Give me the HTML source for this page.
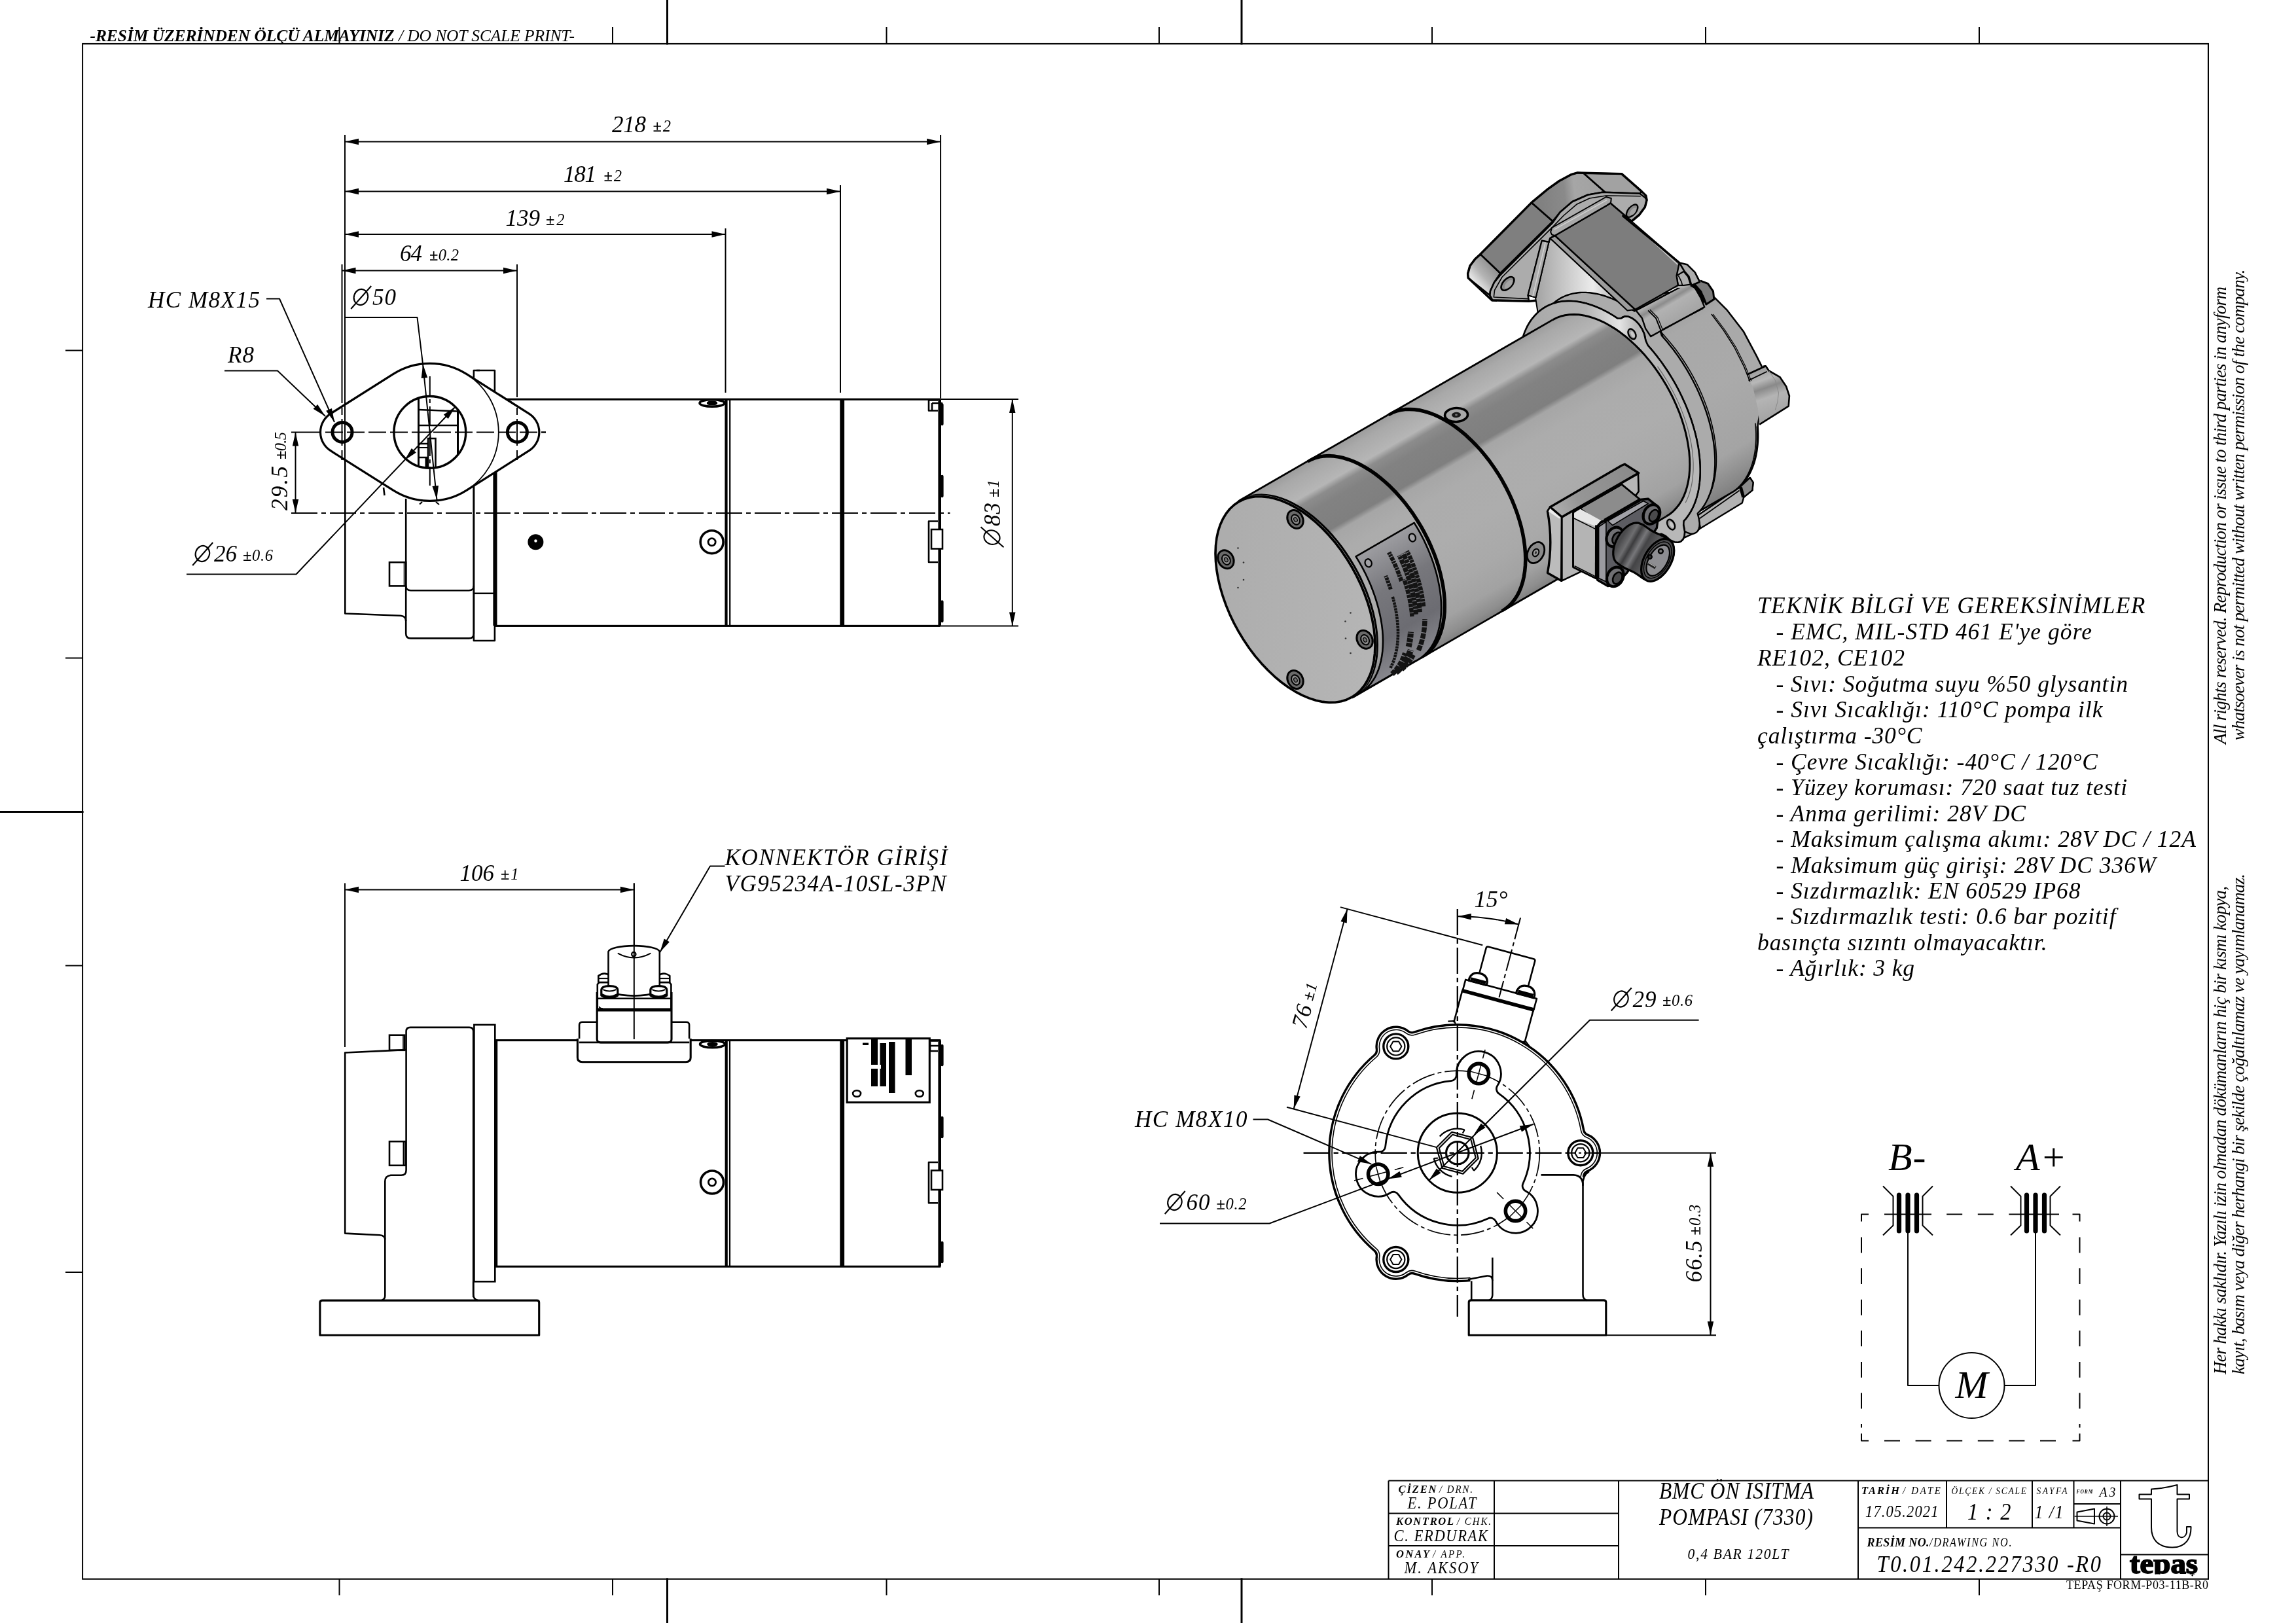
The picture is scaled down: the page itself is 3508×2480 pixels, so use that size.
<!DOCTYPE html>
<html><head><meta charset="utf-8"><title>drawing</title>
<style>html,body{margin:0;padding:0;background:#fff}svg{display:block}text{font-family:"Liberation Serif",serif;fill:#000;stroke:none}</style></head>
<body>
<svg xmlns="http://www.w3.org/2000/svg" width="3508" height="2480" viewBox="0 0 3508 2480">
<rect width="3508" height="2480" fill="#fff"/>
<g opacity="0.999">
<defs><linearGradient id="gcyl" gradientUnits="userSpaceOnUse" x1="1892.2" y1="765.7" x2="2065.8" y2="1066.3"><stop offset="0" stop-color="#9c9c9c"/><stop offset="0.04" stop-color="#a9a9a9"/><stop offset="0.125" stop-color="#b6b6b6"/><stop offset="0.155" stop-color="#8c8c8c"/><stop offset="0.2" stop-color="#828282"/><stop offset="0.31" stop-color="#7f7f7f"/><stop offset="0.335" stop-color="#a6a6a6"/><stop offset="0.42" stop-color="#acacac"/><stop offset="0.6" stop-color="#adadad"/><stop offset="0.78" stop-color="#a9a9a9"/><stop offset="0.9" stop-color="#a2a2a2"/><stop offset="0.97" stop-color="#8e8e8e"/><stop offset="1" stop-color="#808080"/></linearGradient>
<linearGradient id="gpump" gradientUnits="userSpaceOnUse" x1="1881.0" y1="746.3" x2="2077.0" y2="1085.7"><stop offset="0" stop-color="#9a9a9a"/><stop offset="0.08" stop-color="#b0b0b0"/><stop offset="0.16" stop-color="#8c8c8c"/><stop offset="0.24" stop-color="#9a9a9a"/><stop offset="0.34" stop-color="#a8a8a8"/><stop offset="0.6" stop-color="#aaaaaa"/><stop offset="0.85" stop-color="#a4a4a4"/><stop offset="0.95" stop-color="#8a8a8a"/><stop offset="1" stop-color="#7c7c7c"/></linearGradient>
<linearGradient id="gface" gradientUnits="userSpaceOnUse" x1="1860" y1="900" x2="2100" y2="940"><stop offset="0" stop-color="#adadad"/><stop offset="0.5" stop-color="#b1b1b1"/><stop offset="1" stop-color="#b5b5b5"/></linearGradient>
<linearGradient id="gplate" gradientUnits="userSpaceOnUse" x1="2075" y1="850" x2="2170" y2="1010"><stop offset="0" stop-color="#9c9ca0"/><stop offset="0.35" stop-color="#77777c"/><stop offset="0.7" stop-color="#6c6c72"/><stop offset="1" stop-color="#8a8a90"/></linearGradient>
<linearGradient id="gflface" gradientUnits="userSpaceOnUse" x1="2330" y1="520" x2="2500" y2="520"><stop offset="0" stop-color="#a8a8a8"/><stop offset="0.55" stop-color="#b4b4b4"/><stop offset="0.85" stop-color="#e4e4e4"/><stop offset="1" stop-color="#b8b8b8"/></linearGradient>
<linearGradient id="gboss2" gradientUnits="userSpaceOnUse" x1="2690" y1="565" x2="2716" y2="640"><stop offset="0" stop-color="#a0a0a0"/><stop offset="0.2" stop-color="#b8b8b8"/><stop offset="0.36" stop-color="#8a8a8a"/><stop offset="0.55" stop-color="#b4b4b4"/><stop offset="1" stop-color="#a2a2a2"/></linearGradient>
</defs>
<defs><linearGradient id="gS1" gradientUnits="userSpaceOnUse" x1="2250" y1="425" x2="2282" y2="398"><stop offset="0" stop-color="#e2e2e2"/><stop offset="0.35" stop-color="#b4b4b4"/><stop offset="1" stop-color="#868686"/></linearGradient><linearGradient id="gS3" gradientUnits="userSpaceOnUse" x1="2350" y1="300" x2="2440" y2="290"><stop offset="0" stop-color="#808080"/><stop offset="0.45" stop-color="#8a8a8a"/><stop offset="0.62" stop-color="#a6a6a6"/><stop offset="1" stop-color="#a2a2a2"/></linearGradient><linearGradient id="gTri" gradientUnits="userSpaceOnUse" x1="2350" y1="430" x2="2470" y2="430"><stop offset="0" stop-color="#a6a6a6"/><stop offset="0.3" stop-color="#c4c4c4"/><stop offset="0.7" stop-color="#ececec"/><stop offset="1" stop-color="#b4b4b4"/></linearGradient><linearGradient id="gBoss" gradientUnits="userSpaceOnUse" x1="2535" y1="440" x2="2563" y2="488"><stop offset="0" stop-color="#9c9c9c"/><stop offset="0.25" stop-color="#b4b4b4"/><stop offset="0.42" stop-color="#8c8c8c"/><stop offset="0.55" stop-color="#b2b2b2"/><stop offset="1" stop-color="#a6a6a6"/></linearGradient></defs>
<path d="M2592.1,788.8 L2659.4,743.1 L2673.8,729.9 L2678.6,737.1 L2677.4,749.1 L2664.2,759.9 L2661.8,768.4 L2596.9,808.0 L2592.1,812.8 L2571.7,822.4 L2571.7,799.6 Z" fill="#b2b2b2" stroke="#000" stroke-width="2.4" stroke-linejoin="round" />
<path d="M2658.2,744.3 L2673.8,729.9 L2678.6,737.1 L2677.4,749.1 L2664.2,759.9 Z" fill="#8a8a8a" stroke="#000" stroke-width="2.4" stroke-linejoin="round" />
<path d="M2659.4,744.3 L2663.7,759.9" fill="none" stroke="#000" stroke-width="5" stroke-linejoin="round" />
<path d="M2574.1,803.2 L2593.3,794.8 L2657.5,749.6" fill="none" stroke="#000" stroke-width="1.8" stroke-linejoin="round" />
<path d="M2594.5,790.0 L2598.1,806.8" fill="none" stroke="#000" stroke-width="2.2" stroke-linejoin="round" />
<path d="M2577.7,792.0 L2583.8,788.1 L2589.5,783.4 L2594.6,778.0 L2599.3,772.0 L2603.5,765.4 L2607.2,758.2 L2610.3,750.4 L2612.9,742.1 L2614.9,733.2 L2616.4,723.9 L2617.2,714.2 L2617.5,704.1 L2617.2,693.7 L2616.4,683.0 L2614.9,672.1 L2612.9,660.9 L2610.3,649.6 L2607.2,638.2 L2603.5,626.7 L2599.3,615.3 L2594.6,603.8 L2589.5,592.5 L2583.8,581.3 L2577.7,570.3 L2571.3,559.6 L2564.4,549.1 L2557.2,539.0 L2549.6,529.2 L2541.8,519.8 L2533.7,510.9 L2525.4,502.5 L2516.9,494.6 L2508.2,487.3 L2499.5,480.6 L2490.6,474.5 L2481.7,469.0 L2472.9,464.2 L2464.0,460.1 L2455.3,456.7 L2446.6,454.1 L2438.1,452.1 L2429.8,450.9 L2421.7,450.5 L2413.9,450.8 L2406.3,451.9 L2399.1,453.7 L2392.2,456.2 L2385.7,459.5 L2584.8,444.6 L2619.3,454.4 L2639.0,474.2 L2663.7,506.2 L2683.4,543.2 L2694.5,565.4 L2695.4,559.3 L2691.0,600.0 L2689.0,630.0 L2685.6,650.6 L2685.9,656.5 L2686.1,662.3 L2686.1,668.0 L2685.9,673.5 L2685.5,679.0 L2684.9,684.3 L2684.2,689.6 L2683.3,694.6 L2682.2,699.6 L2681.0,704.3 L2679.5,709.0 L2677.9,713.4 L2676.1,717.7 L2674.2,721.9 L2672.1,725.8 L2669.8,729.6 L2667.4,733.1 L2664.8,736.5 L2662.1,739.7 L2659.2,742.7 L2656.2,745.4 L2653.1,748.0 L2649.8,750.3 L2646.3,752.4 Z" fill="url(#gpump)" stroke="#000" stroke-width="2.6" stroke-linejoin="round" />
<path d="M2669.0,572.5 L2697.8,559.3 L2702.6,566.5 L2719.4,576.1 L2729.1,590.5 L2733.9,605.0 L2732.7,620.6 L2688.2,648.7 L2685.8,624.2 L2678.6,592.9 Z" fill="url(#gboss2)" stroke="none" stroke-width="0" stroke-linejoin="round" />
<path d="M2669.0,572.5 L2697.8,559.3 L2702.6,566.5 L2719.4,576.1 L2729.1,590.5 L2733.9,605.0 L2732.7,620.6 L2688.2,648.7" fill="none" stroke="#000" stroke-width="2.6" stroke-linejoin="round" />
<path d="M2671.4,581.4 L2699.7,567.7" fill="none" stroke="#000" stroke-width="1.8" stroke-linejoin="round" />
<path d="M2702.6,566.5 L2712.2,580.9 L2717.5,600.1 L2715.8,614.6 L2712.2,626.6" fill="none" stroke="#8a8a8a" stroke-width="1.0" stroke-linejoin="round" />
<path d="M2582.5,790.5 L2587.3,787.4 L2591.8,783.9 L2596.0,780.0 L2600.0,775.7 L2603.7,771.0 L2607.0,766.0 L2610.1,760.5 L2612.8,754.7 L2615.2,748.6 L2617.3,742.1 L2619.0,735.3 L2620.4,728.3 L2621.4,720.9 L2622.1,713.3 L2622.4,705.5 L2622.4,697.5 L2622.0,689.3 L2621.3,680.9 L2620.2,672.3 L2618.8,663.6 L2617.0,654.9 L2614.9,646.0 L2612.5,637.1 L2609.7,628.1 L2606.6,619.2 L2603.2,610.2 L2599.5,601.3 L2595.5,592.4 L2591.2,583.6 L2586.6,574.9 L2581.8,566.4 L2576.7,558.0 L2571.4,549.7 L2565.9,541.7 L2560.2,533.8 L2554.2,526.2 L2548.1,518.9 L2541.9,511.8 L2535.5,505.0 L2528.9,498.5 L2522.3,492.4 L2515.5,486.5 L2508.7,481.1 L2501.8,475.9 L2494.9,471.2 L2488.0,466.9 L2481.0,463.0 L2474.1,459.5" fill="none" stroke="#000" stroke-width="1.6" stroke-linejoin="round" />
<path d="M2643.2,754.3 L2645.0,753.2 L2646.7,752.1 L2648.4,750.9 L2650.1,749.6 L2651.8,748.3 L2653.4,746.9 L2655.0,745.5 L2656.5,744.0 L2658.0,742.5 L2659.5,740.9 L2660.9,739.3 L2662.3,737.6 L2663.6,735.8 L2664.9,734.0 L2666.2,732.1 L2667.4,730.2 L2668.6,728.3 L2669.7,726.2 L2670.8,724.2 L2671.8,722.1 L2672.8,719.9 L2673.8,717.7 L2674.7,715.5 L2675.5,713.2 L2676.3,710.8 L2677.1,708.4 L2677.8,706.0 L2678.5,703.5 L2679.1,701.0 L2679.7,698.5 L2680.2,695.9 L2680.7,693.2 L2681.2,690.6 L2681.5,687.9 L2681.9,685.1 L2682.2,682.3 L2682.4,679.5 L2682.6,676.7 L2682.8,673.8 L2682.9,670.9 L2682.9,668.0 L2682.9,665.0 L2682.9,662.0 L2682.8,659.0 L2682.6,656.0 L2682.4,652.9 L2682.2,649.8 L2681.9,646.7" fill="none" stroke="#000" stroke-width="1.6" stroke-linejoin="round" />
<path d="M2644.8,753.3 L2646.5,752.3 L2648.2,751.2 L2649.9,750.1 L2651.5,748.9 L2653.1,747.6 L2654.7,746.3 L2656.2,745.0 L2657.7,743.6 L2659.1,742.1 L2660.6,740.6 L2661.9,739.0 L2663.3,737.4 L2664.6,735.7 L2665.9,734.0 L2667.1,732.3 L2668.3,730.5 L2669.4,728.6 L2670.5,726.7 L2671.6,724.8 L2672.6,722.8 L2673.6,720.7 L2674.6,718.6 L2675.5,716.5 L2676.4,714.3 L2677.2,712.1 L2678.0,709.9 L2678.7,707.6 L2679.4,705.2 L2680.0,702.9 L2680.7,700.5 L2681.2,698.0 L2681.7,695.5 L2682.2,693.0 L2682.7,690.5 L2683.0,687.9 L2683.4,685.2 L2683.7,682.6 L2683.9,679.9 L2684.2,677.2 L2684.3,674.4 L2684.4,671.7 L2684.5,668.9 L2684.5,666.0 L2684.5,663.2 L2684.5,660.3 L2684.4,657.4 L2684.2,654.4 L2684.0,651.5" fill="none" stroke="#000" stroke-width="1.2" stroke-linejoin="round" />
<path d="M2614.9,480.0 L2632.9,504.0 L2649.8,530.5 L2664.2,559.3 L2673.8,583.3" fill="none" stroke="#000" stroke-width="1.6" stroke-linejoin="round" />
<path d="M2617.3,480.0 L2635.3,504.0 L2652.2,530.5 L2666.6,559.3 L2675.7,582.1" fill="none" stroke="#000" stroke-width="1.2" stroke-linejoin="round" />
<path d="M2366.4,369.9 L2345.9,454.0 L2350.0,480.0 L2500.0,520.0 L2486.4,474.4 L2368.4,363.9 Z" fill="url(#gTri)" stroke="#000" stroke-width="2" stroke-linejoin="round" />
<path d="M2355.8,367.9 L2366.4,369.9 L2346.6,454.6 L2334.6,451.3 Z" fill="#ababab" stroke="#000" stroke-width="2" stroke-linejoin="round" />
<path d="M2282.3,452.6 L2283.6,443.4 L2294.9,423.5 L2373.7,345.4 L2367.7,359.9 L2355.8,367.9 L2334.6,451.3 L2336.0,459.9 L2280.3,458.6 Z" fill="#adadad" stroke="none" stroke-width="0" stroke-linejoin="round" />
<path d="M2540.3,804.6 L2543.3,804.7 L2546.3,804.7 L2549.2,804.5 L2552.1,804.3 L2554.9,803.9 L2557.7,803.5 L2560.5,802.9 L2563.2,802.3 L2568.6,807.3 L2574.0,811.7 L2578.5,814.2 L2582.5,815.4 L2586.0,815.7 L2589.1,815.0 L2591.7,813.5 L2593.9,811.3 L2595.5,808.2 L2596.5,804.2 L2596.7,799.2 L2595.7,792.5 L2593.7,784.7 L2595.6,782.7 L2597.5,780.6 L2599.3,778.4 L2601.0,776.1 L2602.7,773.8 L2604.3,771.3 L2605.8,768.8 L2607.2,766.2 L2608.6,763.5 L2609.9,760.7 L2611.1,757.8 L2612.3,754.9 L2613.4,751.9 L2614.4,748.8 L2615.3,745.6 L2616.2,742.4 L2616.9,739.1 L2617.6,735.8 L2618.2,732.4 L2618.8,728.9 L2619.2,725.3 L2619.6,721.7 L2619.9,718.1 L2620.1,714.4 L2620.3,710.6 L2620.3,706.8 L2620.3,703.0 L2620.2,699.1 L2620.0,695.1 L2619.8,691.2 L2619.5,687.1 L2619.0,683.1 L2618.5,679.0 L2618.0,674.9 L2617.3,670.8 L2616.6,666.6 L2615.8,662.4 L2614.9,658.2 L2613.9,654.0 L2612.9,649.7 L2611.8,645.4 L2610.6,641.2 L2609.3,636.9 L2608.0,632.6 L2606.6,628.3 L2605.1,624.0 L2603.5,619.7 L2601.9,615.4 L2600.2,611.2 L2598.5,606.9 L2596.6,602.6 L2594.8,598.4 L2592.8,594.1 L2590.8,589.9 L2588.7,585.7 L2586.5,581.5 L2584.3,577.4 L2582.1,573.3 L2579.7,569.2 L2577.4,565.1 L2574.9,561.1 L2572.4,557.1 L2569.9,553.2 L2567.3,549.3 L2564.7,545.4 L2562.0,541.6 L2559.2,537.8 L2556.5,534.1 L2553.6,530.5 L2550.8,526.9 L2547.9,523.3 L2544.9,519.8 L2542.0,516.4 L2538.9,513.0 L2537.1,507.2 L2535.7,499.8 L2533.5,493.7 L2530.8,488.4 L2527.8,483.8 L2524.4,479.9 L2520.9,476.5 L2517.3,473.8 L2513.5,471.8 L2509.6,470.5 L2505.6,470.3 L2501.6,471.5 L2497.5,475.5 L2494.1,473.5 L2490.8,471.3 L2487.5,469.2 L2484.2,467.2 L2480.8,465.2 L2477.5,463.4 L2474.2,461.6 L2470.9,460.0 L2467.6,458.4 L2464.3,456.9 L2461.0,455.5 L2457.7,454.3 L2454.4,453.1 L2451.2,452.0 L2447.9,451.0 L2444.7,450.2 L2441.5,449.4 L2438.3,448.7 L2435.2,448.2 L2432.1,447.7 L2429.0,447.3 L2425.9,447.1 L2422.9,446.9 L2419.9,446.9 L2416.9,446.9 L2414.0,447.0 L2411.1,447.3 L2408.3,447.7 L2405.5,448.1 L2402.8,448.7 L2400.0,449.3 L2397.4,450.1 L2394.8,451.0 L2392.2,451.9 L2389.7,453.0 L2387.2,454.2 L2384.8,455.4 L2382.5,456.8 L2380.2,458.2 L2377.9,459.8 L2375.8,461.5 L2373.7,463.2 L2371.6,465.0 L2369.6,467.0 L2367.7,469.0 L2365.8,471.1 L2364.1,473.3 L2362.3,475.6 L2360.7,478.0 L2359.1,480.4 L2357.6,483.0 L2356.1,485.6 L2333.5,498.7 L2335.0,496.1 L2336.5,493.5 L2338.1,491.0 L2339.7,488.7 L2341.4,486.4 L2343.2,484.2 L2345.1,482.1 L2347.0,480.0 L2349.0,478.1 L2351.0,476.3 L2353.1,474.5 L2355.3,472.9 L2357.6,471.3 L2359.8,469.9 L2362.2,468.5 L2364.6,467.2 L2367.1,466.1 L2369.6,465.0 L2372.1,464.0 L2374.8,463.2 L2377.4,462.4 L2380.1,461.7 L2382.9,461.2 L2385.7,460.7 L2388.5,460.4 L2391.4,460.1 L2394.3,460.0 L2397.3,459.9 L2400.3,460.0 L2403.3,460.1 L2406.4,460.4 L2409.5,460.8 L2412.6,461.2 L2415.7,461.8 L2418.9,462.5 L2422.1,463.2 L2425.3,464.1 L2428.5,465.1 L2431.8,466.2 L2435.1,467.3 L2438.3,468.6 L2441.6,470.0 L2444.9,471.4 L2448.2,473.0 L2451.6,474.7 L2454.9,476.4 L2458.2,478.3 L2461.5,480.2 L2464.9,482.3 L2468.2,484.4 L2471.5,486.6 L2474.8,488.6 L2479.0,484.5 L2483.0,483.4 L2487.0,483.6 L2490.8,484.8 L2494.6,486.8 L2498.3,489.6 L2501.8,492.9 L2505.1,496.9 L2508.2,501.5 L2510.9,506.7 L2513.1,512.8 L2514.4,520.3 L2516.3,526.1 L2519.3,529.5 L2522.3,532.9 L2525.3,536.4 L2528.2,539.9 L2531.0,543.5 L2533.8,547.2 L2536.6,550.9 L2539.4,554.7 L2542.0,558.5 L2544.7,562.3 L2547.3,566.2 L2549.8,570.2 L2552.3,574.2 L2554.7,578.2 L2557.1,582.2 L2559.4,586.3 L2561.7,590.5 L2563.9,594.6 L2566.1,598.8 L2568.1,603.0 L2570.2,607.2 L2572.1,611.4 L2574.0,615.7 L2575.8,619.9 L2577.6,624.2 L2579.3,628.5 L2580.9,632.8 L2582.5,637.1 L2584.0,641.4 L2585.4,645.7 L2586.7,650.0 L2588.0,654.2 L2589.1,658.5 L2590.3,662.8 L2591.3,667.0 L2592.3,671.2 L2593.1,675.5 L2594.0,679.7 L2594.7,683.8 L2595.3,688.0 L2595.9,692.1 L2596.4,696.2 L2596.8,700.2 L2597.2,704.2 L2597.4,708.2 L2597.6,712.1 L2597.7,716.0 L2597.7,719.9 L2597.6,723.7 L2597.5,727.4 L2597.3,731.2 L2597.0,734.8 L2596.6,738.4 L2596.1,741.9 L2595.6,745.4 L2595.0,748.8 L2594.3,752.2 L2593.5,755.5 L2592.7,758.7 L2591.7,761.9 L2590.7,764.9 L2589.7,767.9 L2588.5,770.9 L2587.3,773.7 L2586.0,776.5 L2584.6,779.2 L2583.2,781.8 L2581.6,784.4 L2580.0,786.8 L2578.4,789.2 L2576.7,791.5 L2574.9,793.7 L2573.0,795.8 L2571.1,797.8 L2573.1,805.6 L2574.1,812.2 L2573.9,817.3 L2572.9,821.2 L2571.3,824.3 L2569.1,826.6 L2566.5,828.1 L2563.4,828.7 L2559.9,828.5 L2555.9,827.3 L2551.4,824.8 L2546.0,820.4 L2540.6,815.3 L2537.9,816.0 L2535.1,816.5 L2532.3,817.0 L2529.5,817.3 L2526.6,817.6 L2523.7,817.7 L2520.7,817.8 L2517.7,817.7 Z" fill="#ababab" stroke="#000" stroke-width="2.4" stroke-linejoin="round" />
<path d="M2568.0,827.4 L2571.3,824.3 L2573.4,819.6 L2574.1,812.7 L2572.2,802.5 L2572.6,796.2 L2575.4,793.1 L2577.9,789.8 L2580.3,786.4 L2582.6,782.8 L2584.7,779.0 L2586.7,775.0 L2588.5,770.9 L2590.2,766.6 L2591.7,762.1 L2593.0,757.5 L2594.2,752.8 L2595.2,747.9 L2596.0,742.9 L2596.7,737.7 L2597.2,732.5 L2597.5,727.1 L2597.7,721.6 L2597.7,716.0 L2597.5,710.4 L2597.2,704.6 L2596.7,698.7 L2596.0,692.8 L2595.2,686.8 L2594.2,680.8 L2593.0,674.7 L2591.7,668.6 L2590.2,662.4 L2588.5,656.2 L2586.7,650.0 L2584.7,643.7 L2582.6,637.5 L2580.3,631.2 L2577.9,625.0 L2575.4,618.8 L2572.6,612.6 L2569.8,606.4 L2566.8,600.3 L2563.7,594.2 L2560.5,588.2 L2557.1,582.2 L2553.6,576.4 L2550.0,570.5 L2546.3,564.8 L2542.5,559.2 L2538.6,553.6 L2534.6,548.2 L2530.5,542.9 L2526.3,537.7 L2522.0,532.6 L2517.7,527.6 L2514.4,520.3 L2512.1,509.9 L2508.4,501.9 L2504.0,495.4 L2499.0,490.1 L2493.6,486.2 L2488.0,483.8 L2482.3,483.5 L2476.4,486.5 L2471.2,486.4 L2466.4,483.2 L2461.5,480.2 L2456.7,477.4 L2451.9,474.8 L2447.0,472.4 L2442.2,470.2 L2437.4,468.3 L2432.7,466.5 L2427.9,464.9 L2423.3,463.5 L2418.6,462.4 L2414.0,461.5 L2409.5,460.8 L2405.0,460.3 L2400.5,460.0 L2396.2,459.9 L2391.9,460.1 L2387.7,460.4 L2383.6,461.0 L2379.6,461.8 L2375.7,462.9 L2371.9,464.1 L2368.2,465.6 L2364.6,467.2 L2361.1,469.1 L2357.8,471.2 L2354.5,473.5 L2351.4,475.9 L2348.4,478.6 L2345.6,481.5 L2342.9,484.6 L2340.3,487.8 L2337.9,491.3 L2335.6,494.9 L2333.5,498.7 L2331.5,502.7 L2329.7,506.8 L2328.1,511.1 L2326.6,515.5 L2325.3,520.1 L2324.1,524.9 L2323.1,529.8 L2322.2,534.8 L2321.6,539.9 L2321.1,545.2 L2320.7,550.6 L2320.5,556.0 L2320.5,561.6 L2320.7,567.3 L2321.1,573.1 L2318.6,577.6 L2313.0,581.2 L2310.4,586.4 L2309.7,592.4 L2310.4,599.0 L2312.5,605.9 L2315.9,613.1 L2321.0,620.3 L2328.8,627.5 L2333.5,634.0 L2335.6,640.2 L2337.9,646.4 L2340.3,652.7 L2342.9,658.9 L2345.6,665.1 L2348.4,671.2 L2351.4,677.4 L2354.5,683.4 L2357.8,689.5 L2361.1,695.4 L2364.6,701.3 L2368.2,707.1 L2371.9,712.8 L2375.7,718.5 L2379.6,724.0 L2383.6,729.5 L2387.7,734.8 L2391.9,740.0 L2396.2,745.1 L2400.5,750.1 L2405.0,754.9 L2409.5,759.6 L2414.0,764.1 L2418.6,768.5 L2423.3,772.7 L2427.9,776.8 L2432.7,780.7 L2437.4,784.4 L2442.2,787.9 L2447.0,791.3 L2451.9,794.5 L2456.7,797.4 L2461.5,800.2 L2466.4,802.8 L2471.2,805.2 L2476.0,807.4 L2480.8,809.4 L2485.6,811.2 L2490.3,812.8 L2495.0,814.1 L2499.6,815.3 L2504.2,816.2 L2508.8,816.9 L2513.3,817.4 L2517.7,817.7 L2522.0,817.7 L2526.3,817.6 L2530.5,817.2 L2534.6,816.6 L2538.6,815.8 L2544.3,818.6 L2552.2,825.4 L2558.5,828.2 L2563.7,828.7 L2568.0,827.4 Z" fill="url(#gflface)" stroke="#000" stroke-width="2.6" stroke-linejoin="round" />
<path d="M2575.1,768.3 L2576.6,765.2 L2578.1,762.1 L2579.4,758.8 L2580.6,755.5 L2581.7,752.0 L2582.7,748.5 L2583.7,744.8 L2584.5,741.1 L2585.2,737.3 L2585.8,733.4 L2586.2,729.4 L2586.6,725.3 L2586.9,721.2 L2587.1,717.0 L2587.1,712.7 L2587.1,708.4 L2586.9,704.0 L2586.6,699.6 L2586.2,695.1 L2585.8,690.5 L2585.2,685.9 L2584.5,681.3 L2583.7,676.6 L2582.7,672.0 L2581.7,667.2 L2580.6,662.5 L2579.4,657.7 L2578.1,652.9 L2576.6,648.1 L2575.1,643.3 L2573.5,638.5 L2571.8,633.7 L2570.0,628.9 L2568.1,624.1 L2566.1,619.4 L2564.0,614.6 L2561.8,609.8 L2559.5,605.1 L2557.2,600.4 L2554.7,595.8 L2552.2,591.2 L2549.6,586.6 L2547.0,582.0 L2544.2,577.6 L2541.4,573.1 L2538.5,568.7 L2535.5,564.4 L2532.5,560.2" fill="none" stroke="#666" stroke-width="1.2" stroke-linejoin="round" />
<ellipse cx="2553.1" cy="801.6" rx="5.2" ry="8.4" fill="#9a9a9a" stroke="#000" stroke-width="2.4" transform="rotate(-28 2553.1 801.6)"/>
<ellipse cx="2554.1" cy="802.1" rx="2.6" ry="5.0" fill="#c8c8c8" stroke="none" stroke-width="0" transform="rotate(-28 2554.1 802.1)"/>
<ellipse cx="2493.5" cy="510.4" rx="5.2" ry="8.4" fill="#9a9a9a" stroke="#000" stroke-width="2.4" transform="rotate(-28 2493.5 510.4)"/>
<ellipse cx="2494.5" cy="510.9" rx="2.6" ry="5.0" fill="#c8c8c8" stroke="none" stroke-width="0" transform="rotate(-28 2494.5 510.9)"/>
<path d="M2499.6,474.4 L2572.5,436.0 L2580.4,434.6 L2589.7,439.9 L2598.9,455.8 L2604.2,469.1 L2522.1,514.1 L2514.2,502.2 L2508.9,486.3 Z" fill="url(#gBoss)" stroke="#000" stroke-width="2.4" stroke-linejoin="round" />
<path d="M2518.1,474.4 L2530.1,486.3 L2538.0,506.2 L2540.7,514.1" fill="none" stroke="#000" stroke-width="2" stroke-linejoin="round" />
<path d="M2520.8,473.0 L2532.7,485.0 L2540.7,504.8" fill="none" stroke="#000" stroke-width="1.2" stroke-linejoin="round" />
<path d="M2540.0,503.5 L2602.3,471.1" fill="none" stroke="#000" stroke-width="1.8" stroke-linejoin="round" />
<path d="M2585.7,434.6 L2598.9,429.3 L2609.5,433.3 L2617.5,445.2 L2618.8,457.2 L2606.9,465.1 L2602.3,453.2 L2595.0,442.6 Z" fill="#7a7a7a" stroke="#000" stroke-width="3" stroke-linejoin="round" />
<path d="M2588.3,436.0 L2597.6,446.6 L2603.6,462.5" fill="none" stroke="#000" stroke-width="6" stroke-linejoin="round" />
<path d="M2559.2,401.5 L2572.5,402.2 L2589.7,416.1 L2598.9,430.7 L2572.5,439.9 L2559.2,439.9 Z" fill="#adadad" stroke="none" stroke-width="0" stroke-linejoin="round" />
<path d="M2565.8,401.5 L2577.7,404.2 L2589.7,416.1 L2597.0,430.7 L2584.4,436.0 L2580.4,422.7 L2573.8,414.8 Z" fill="#adadad" stroke="#000" stroke-width="2.6" stroke-linejoin="round" />
<path d="M2561.6,421.4 L2572.5,414.8 L2579.1,422.7 L2583.0,434.6 L2572.5,436.0 L2563.8,436.0 Z" fill="#b0b0b0" stroke="#000" stroke-width="2.2" stroke-linejoin="round" />
<path d="M2564.5,421.4 L2569.1,430.7 L2570.5,436.0" fill="none" stroke="#000" stroke-width="1.6" stroke-linejoin="round" />
<path d="M2368.4,363.9 L2375.7,360.2 L2498.3,473.0 L2486.4,474.6 Z" fill="#9c9c9c" stroke="#000" stroke-width="2" stroke-linejoin="round" />
<path d="M2375.7,359.9 L2455.2,313.6 L2460.5,310.3 L2565.8,401.5 L2561.6,421.4 L2563.8,436.0 L2498.3,473.0 Z" fill="#7d7d7d" stroke="#000" stroke-width="2.4" stroke-linejoin="round" />
<path d="M2463.1,312.3 L2563.2,404.2" fill="none" stroke="#d8d8d8" stroke-width="1.2" stroke-linejoin="round" />
<path d="M2243.2,424.8 L2242.6,418.2 L2245.9,406.3 L2253.8,395.7 L2261.8,388.4 L2292.3,417.5 L2283.0,431.5 L2277.0,444.7 L2276.4,451.3 Z" fill="url(#gS1)" stroke="#000" stroke-width="2.6" stroke-linejoin="round" />
<path d="M2261.8,388.4 L2339.9,309.6 L2372.4,338.1 L2292.3,417.5 Z" fill="#7f7f7f" stroke="#000" stroke-width="2.6" stroke-linejoin="round" />
<path d="M2339.9,309.6 L2363.8,289.7 L2382.3,276.5 L2400.9,266.6 L2410.1,263.9 L2419.4,264.6 L2452.5,293.7 L2448.5,293.7 L2426.0,297.7 L2402.2,308.3 L2383.6,324.2 L2372.4,338.1 Z" fill="url(#gS3)" stroke="#000" stroke-width="2.6" stroke-linejoin="round" />
<path d="M2419.4,264.6 L2477.7,265.6 L2508.1,292.4 L2506.2,295.7 L2452.5,293.7 Z" fill="#a2a2a2" stroke="#000" stroke-width="2.6" stroke-linejoin="round" />
<path d="M2276.4,451.3 L2277.0,444.7 L2283.0,431.5 L2291.6,420.9 L2372.4,340.1 L2383.6,324.2 L2402.2,308.3 L2426.0,297.7 L2448.5,293.7 L2505.5,295.7 L2513.4,301.7 L2516.1,305.6 L2513.4,316.2 L2504.8,328.1 L2492.9,338.1 L2460.5,310.3 L2455.2,313.6 L2375.7,359.9 L2368.4,363.9 L2366.4,369.9 L2355.8,367.9 L2334.6,451.3 L2336.0,459.9 L2280.3,458.6 Z" fill="#acacac" stroke="#000" stroke-width="2.6" stroke-linejoin="round" />
<path d="M2336.0,456.6 L2282.3,454.0 L2283.6,443.4 L2294.9,423.5 L2373.7,345.4 L2388.9,329.5 L2408.8,312.3 L2428.7,303.0 L2453.8,299.0 L2506.8,299.7" fill="none" stroke="#000" stroke-width="1.6" stroke-linejoin="round" />
<path d="M2369.1,354.6 L2371.1,348.0 L2453.8,301.0 L2461.8,303.0 L2461.1,309.6 L2455.2,313.6 L2375.7,359.9 L2371.1,358.6 Z" fill="#a9a9a9" stroke="#000" stroke-width="2" stroke-linejoin="round" />
<path d="M2375.0,350.7 L2455.2,305.6" fill="none" stroke="#d0d0d0" stroke-width="1.4" stroke-linejoin="round" />
<path d="M2355.8,367.9 L2366.4,369.9 L2346.6,454.6 L2334.6,451.3 Z" fill="#ababab" stroke="#000" stroke-width="2" stroke-linejoin="round" />
<path d="M2361.1,370.5 L2341.9,452.6" fill="none" stroke="#d4d4d4" stroke-width="1.4" stroke-linejoin="round" />
<ellipse cx="2303.5" cy="433.4" rx="12.5" ry="7.0" fill="#8a8a8a" stroke="#000" stroke-width="2.6" transform="rotate(-47 2303.5 433.4)"/>
<ellipse cx="2305.0" cy="434.4" rx="8.0" ry="4.0" fill="#a4a4a4" stroke="none" stroke-width="0" transform="rotate(-47 2305.0 434.4)"/>
<ellipse cx="2493.6" cy="322.2" rx="11.5" ry="6.0" fill="#8a8a8a" stroke="#000" stroke-width="2.4" transform="rotate(-50 2493.6 322.2)"/>
<ellipse cx="2495.1" cy="323.2" rx="7.0" ry="3.4" fill="#a4a4a4" stroke="none" stroke-width="0" transform="rotate(-50 2495.1 323.2)"/>
<path d="M2346.6,459.3 L2336.0,460.3 L2279.7,459.0 L2243.2,424.8 L2242.6,418.2 L2245.9,406.3 L2253.8,395.7 L2261.8,388.4 L2339.9,309.6 L2363.8,289.7 L2382.3,276.5 L2400.9,266.6 L2410.1,263.9 L2477.7,265.6 L2508.1,292.4 L2514.8,299.0 L2516.1,305.6 L2513.4,316.2 L2504.8,328.1 L2492.9,338.1" fill="none" stroke="#000" stroke-width="3.4" stroke-linejoin="round" />
<path d="M2492.9,338.1 L2479.7,330.0 L2565.8,401.5" fill="none" stroke="#000" stroke-width="3.2" stroke-linejoin="round" />
<clipPath id="cylclip"><path d="M2065.1,1068.5 L2070.7,1064.8 L2075.8,1060.6 L2080.5,1055.7 L2084.8,1050.2 L2088.6,1044.2 L2092.0,1037.6 L2094.8,1030.5 L2097.2,1022.9 L2099.0,1014.8 L2100.3,1006.3 L2101.1,997.5 L2101.4,988.3 L2101.1,978.8 L2100.3,969.0 L2099.0,959.0 L2097.2,948.9 L2094.8,938.5 L2092.0,928.1 L2088.6,917.7 L2084.8,907.2 L2080.5,896.8 L2075.8,886.5 L2070.7,876.3 L2065.1,866.3 L2059.2,856.5 L2053.0,846.9 L2046.4,837.7 L2039.5,828.7 L2032.3,820.2 L2025.0,812.1 L2017.4,804.4 L2009.6,797.2 L2001.7,790.5 L1993.7,784.4 L1985.7,778.8 L1977.6,773.8 L1969.5,769.5 L1961.4,765.7 L1953.4,762.7 L1945.5,760.2 L1937.8,758.5 L1930.2,757.4 L1922.8,757.0 L1915.7,757.3 L1908.8,758.2 L1902.2,759.9 L1895.9,762.2 L1890.0,765.2 L2373.0,486.4 L2378.9,483.4 L2385.2,481.1 L2391.7,479.4 L2398.6,478.5 L2405.8,478.2 L2413.2,478.6 L2420.7,479.7 L2428.5,481.4 L2436.4,483.8 L2444.4,486.9 L2452.4,490.7 L2460.5,495.0 L2468.6,500.0 L2476.7,505.6 L2484.7,511.7 L2492.6,518.4 L2500.3,525.6 L2507.9,533.3 L2515.3,541.4 L2522.4,549.9 L2529.3,558.9 L2535.9,568.1 L2542.2,577.7 L2548.1,587.5 L2553.6,597.5 L2558.8,607.7 L2563.5,618.0 L2567.8,628.4 L2571.6,638.9 L2574.9,649.3 L2577.8,659.7 L2580.1,670.1 L2582.0,680.2 L2583.3,690.2 L2584.1,700.0 L2584.3,709.5 L2584.1,718.7 L2583.3,727.5 L2582.0,736.0 L2580.1,744.1 L2577.8,751.7 L2574.9,758.8 L2571.6,765.4 L2567.8,771.4 L2563.5,776.9 L2558.8,781.8 L2553.6,786.0 L2548.1,789.7 Z M2066.6,1067.6 L2073.8,1062.7 L2080.4,1056.6 L2086.2,1049.4 L2091.2,1041.2 L2095.3,1032.1 L2098.6,1022.0 L2100.9,1011.2 L2102.3,999.7 L2102.8,987.5 L2102.3,974.7 L2100.9,961.6 L2098.6,948.0 L2095.3,934.3 L2091.2,920.4 L2086.2,906.4 L2080.4,892.5 L2073.8,878.9 L2066.6,865.4 L2058.6,852.4 L2050.0,839.9 L2040.9,827.9 L2031.3,816.6 L2021.3,806.1 L2011.0,796.4 L2000.5,787.6 L1989.8,779.8 L1979.0,773.0 L1968.2,767.3 L1957.5,762.8 L1947.0,759.4 L1936.7,757.2 L1926.7,756.2 L1917.1,756.4 L1908.0,757.9 L1899.4,760.5 L1891.5,764.4 L1884.2,769.3 L1877.6,775.4 L1871.8,782.6 L1866.8,790.8 L1862.7,799.9 L1859.4,810.0 L1857.1,820.8 L1855.7,832.3 L1855.2,844.5 L1855.7,857.3 L1857.1,870.4 L1859.4,884.0 L1862.7,897.7 L1866.8,911.6 L1871.8,925.6 L1877.6,939.5 L1884.2,953.1 L1891.5,966.6 L1899.4,979.6 L1908.0,992.1 L1917.1,1004.1 L1926.7,1015.4 L1936.7,1025.9 L1947.0,1035.6 L1957.5,1044.4 L1968.2,1052.2 L1979.0,1059.0 L1989.8,1064.7 L2000.5,1069.2 L2011.0,1072.6 L2021.3,1074.8 L2031.3,1075.8 L2040.9,1075.6 L2050.0,1074.1 L2058.6,1071.5 L2066.6,1067.6 Z"/></clipPath>
<path d="M2065.8,1066.3 L2071.2,1062.7 L2076.3,1058.4 L2081.0,1053.6 L2085.2,1048.2 L2089.0,1042.2 L2092.3,1035.6 L2095.2,1028.6 L2097.5,1021.1 L2099.3,1013.1 L2100.6,1004.7 L2101.4,995.9 L2101.7,986.8 L2101.4,977.4 L2100.6,967.7 L2099.3,957.8 L2097.5,947.7 L2095.2,937.5 L2092.3,927.2 L2089.0,916.9 L2085.2,906.5 L2081.0,896.2 L2076.3,886.0 L2071.2,875.8 L2065.8,865.9 L2059.9,856.2 L2053.7,846.7 L2047.2,837.6 L2040.3,828.7 L2033.3,820.3 L2025.9,812.2 L2018.4,804.6 L2010.8,797.5 L2002.9,790.9 L1995.0,784.8 L1987.0,779.3 L1979.0,774.3 L1971.0,770.0 L1963.0,766.3 L1955.1,763.2 L1947.2,760.8 L1939.6,759.1 L1932.1,758.0 L1924.7,757.6 L1917.7,757.9 L1910.8,758.9 L1904.3,760.5 L1898.1,762.8 L1892.2,765.7 L2372.4,488.6 L2378.2,485.6 L2384.4,483.3 L2391.0,481.7 L2397.8,480.7 L2404.9,480.5 L2412.2,480.8 L2419.7,481.9 L2427.4,483.7 L2435.2,486.1 L2443.1,489.1 L2451.1,492.8 L2459.1,497.2 L2467.1,502.1 L2475.1,507.6 L2483.1,513.7 L2490.9,520.3 L2498.6,527.5 L2506.1,535.1 L2513.4,543.1 L2520.5,551.6 L2527.3,560.4 L2533.8,569.6 L2540.0,579.0 L2545.9,588.7 L2551.4,598.7 L2556.5,608.8 L2561.1,619.0 L2565.4,629.3 L2569.2,639.7 L2572.5,650.1 L2575.3,660.4 L2577.6,670.6 L2579.4,680.7 L2580.8,690.6 L2581.5,700.2 L2581.8,709.7 L2581.5,718.8 L2580.8,727.5 L2579.4,735.9 L2577.6,743.9 L2575.3,751.4 L2572.5,758.5 L2569.2,765.0 L2565.4,771.0 L2561.1,776.4 L2556.5,781.3 L2551.4,785.5 L2545.9,789.1 Z" fill="url(#gcyl)" stroke="none" stroke-width="0" stroke-linejoin="round" />
<line x1="1892.2" y1="765.7" x2="2372.4" y2="488.6" stroke="#000" stroke-width="2.8" stroke-linecap="butt"/>
<line x1="2065.8" y1="1066.3" x2="2545.9" y2="789.1" stroke="#000" stroke-width="2.8" stroke-linecap="butt"/>
<g clip-path="url(#cylclip)">
<path d="M2545.9,789.1 L2551.4,785.5 L2556.5,781.3 L2561.1,776.4 L2565.4,771.0 L2569.2,765.0 L2572.5,758.5 L2575.3,751.4 L2577.6,743.9 L2579.4,735.9 L2580.8,727.5 L2581.5,718.8 L2581.8,709.7 L2581.5,700.2 L2580.8,690.6 L2579.4,680.7 L2577.6,670.6 L2575.3,660.4 L2572.5,650.1 L2569.2,639.7 L2565.4,629.3 L2561.1,619.0 L2556.5,608.8 L2551.4,598.7 L2545.9,588.7 L2540.0,579.0 L2533.8,569.6 L2527.3,560.4 L2520.5,551.6 L2513.4,543.1 L2506.1,535.1 L2498.6,527.5 L2490.9,520.3 L2483.1,513.7 L2475.1,507.6 L2467.1,502.1 L2459.1,497.2 L2451.1,492.8 L2443.1,489.1 L2435.2,486.1 L2427.4,483.7 L2419.7,481.9 L2412.2,480.8 L2404.9,480.5 L2397.8,480.7 L2391.0,481.7 L2384.4,483.3 L2378.2,485.6 L2372.4,488.6" fill="none" stroke="#000" stroke-width="3" stroke-linejoin="round" />
<path d="M2294.9,934.0 L2300.3,930.4 L2305.4,926.2 L2310.1,921.3 L2314.3,915.9 L2318.1,909.9 L2321.4,903.4 L2324.3,896.3 L2326.6,888.8 L2328.4,880.8 L2329.7,872.5 L2330.5,863.7 L2330.8,854.6 L2330.5,845.2 L2329.7,835.5 L2328.4,825.6 L2326.6,815.5 L2324.3,805.3 L2321.4,795.0 L2318.1,784.6 L2314.3,774.2 L2310.1,763.9 L2305.4,753.7 L2300.3,743.6 L2294.9,733.7 L2289.0,723.9 L2282.8,714.5 L2276.3,705.3 L2269.4,696.5 L2262.4,688.0 L2255.0,680.0 L2247.5,672.4 L2239.9,665.2 L2232.0,658.6 L2224.1,652.5 L2216.1,647.0 L2208.1,642.1 L2200.1,637.8 L2192.1,634.0 L2184.2,631.0 L2176.3,628.6 L2168.7,626.8 L2161.2,625.8 L2153.8,625.4 L2146.8,625.6 L2139.9,626.6 L2133.4,628.2 L2127.2,630.5 L2121.4,633.5" fill="none" stroke="#000" stroke-width="5.5" stroke-linejoin="round" />
<path d="M2171.4,1005.3 L2176.9,1001.7 L2182.0,997.4 L2186.6,992.6 L2190.9,987.2 L2194.7,981.2 L2198.0,974.7 L2200.8,967.6 L2203.1,960.1 L2205.0,952.1 L2206.3,943.7 L2207.1,935.0 L2207.3,925.8 L2207.1,916.4 L2206.3,906.7 L2205.0,896.8 L2203.1,886.8 L2200.8,876.5 L2198.0,866.2 L2194.7,855.9 L2190.9,845.5 L2186.6,835.2 L2182.0,825.0 L2176.9,814.9 L2171.4,804.9 L2165.5,795.2 L2159.3,785.7 L2152.8,776.6 L2146.0,767.7 L2138.9,759.3 L2131.6,751.2 L2124.1,743.6 L2116.4,736.5 L2108.6,729.9 L2100.7,723.8 L2092.7,718.3 L2084.6,713.4 L2076.6,709.0 L2068.6,705.3 L2060.7,702.3 L2052.9,699.8 L2045.2,698.1 L2037.7,697.0 L2030.4,696.6 L2023.3,696.9 L2016.5,697.9 L2010.0,699.5 L2003.8,701.8 L1997.9,704.8" fill="none" stroke="#000" stroke-width="5.5" stroke-linejoin="round" />
<path d="M2068.6,1064.6 L2074.1,1061.0 L2079.2,1056.8 L2083.8,1052.0 L2088.1,1046.5 L2091.9,1040.5 L2095.2,1034.0 L2098.0,1027.0 L2100.3,1019.4 L2102.2,1011.5 L2103.5,1003.1 L2104.2,994.3 L2104.5,985.2 L2104.2,975.8 L2103.5,966.1 L2102.2,956.2 L2100.3,946.1 L2098.0,935.9 L2095.2,925.6 L2091.9,915.2 L2088.1,904.9 L2083.8,894.6 L2079.2,884.3 L2074.1,874.2 L2068.6,864.3 L2062.7,854.6 L2056.5,845.1 L2050.0,835.9 L2043.2,827.1 L2036.1,818.6 L2028.8,810.6 L2021.3,803.0 L2013.6,795.9 L2005.8,789.2 L1997.8,783.2 L1989.9,777.6 L1981.8,772.7 L1973.8,768.4 L1965.8,764.7 L1957.9,761.6 L1950.1,759.2 L1942.4,757.5 L1934.9,756.4 L1927.6,756.0 L1920.5,756.3 L1913.7,757.2 L1907.1,758.9 L1900.9,761.2 L1895.1,764.1" fill="none" stroke="#000" stroke-width="3" stroke-linejoin="round" />
</g>
<path d="M2065.2,1065.4 L2072.4,1060.5 L2078.9,1054.5 L2084.6,1047.4 L2089.5,1039.3 L2093.6,1030.3 L2096.8,1020.5 L2099.1,1009.8 L2100.5,998.4 L2101.0,986.4 L2100.5,973.9 L2099.1,960.9 L2096.8,947.6 L2093.6,934.0 L2089.5,920.3 L2084.6,906.6 L2078.9,892.9 L2072.4,879.4 L2065.2,866.2 L2057.4,853.4 L2049.0,841.0 L2040.0,829.2 L2030.5,818.1 L2020.7,807.7 L2010.6,798.2 L2000.2,789.5 L1989.6,781.8 L1979.0,775.2 L1968.4,769.6 L1957.8,765.1 L1947.4,761.7 L1937.3,759.6 L1927.5,758.6 L1918.0,758.8 L1909.0,760.2 L1900.6,762.8 L1892.8,766.6 L1885.6,771.5 L1879.1,777.5 L1873.4,784.6 L1868.5,792.7 L1864.4,801.7 L1861.2,811.5 L1858.9,822.2 L1857.5,833.6 L1857.0,845.6 L1857.5,858.1 L1858.9,871.1 L1861.2,884.4 L1864.4,898.0 L1868.5,911.7 L1873.4,925.4 L1879.1,939.1 L1885.6,952.6 L1892.8,965.8 L1900.6,978.6 L1909.0,991.0 L1918.0,1002.8 L1927.5,1013.9 L1937.3,1024.3 L1947.4,1033.8 L1957.8,1042.5 L1968.4,1050.2 L1979.0,1056.8 L1989.6,1062.4 L2000.2,1066.9 L2010.6,1070.3 L2020.7,1072.4 L2030.5,1073.4 L2040.0,1073.2 L2049.0,1071.8 L2057.4,1069.2 L2065.2,1065.4 Z" fill="url(#gface)" stroke="#000" stroke-width="3.6" stroke-linejoin="round" />
<path d="M2072.4,1062.1 L2077.4,1059.5 L2082.1,1056.5 L2086.5,1052.9 L2090.6,1048.9 L2094.4,1044.5 L2097.9,1039.6 L2101.1,1034.4 L2103.8,1028.7 L2106.3,1022.7 L2108.3,1016.3 L2110.0,1009.5 L2111.3,1002.5 L2112.3,995.1 L2112.8,987.5 L2113.0,979.7 L2112.8,971.6 L2112.2,963.3 L2111.2,954.9 L2109.8,946.3 L2108.0,937.6 L2105.9,928.8 L2103.4,920.0 L2100.6,911.1 L2097.4,902.2 L2093.9,893.3 L2090.0,884.5 L2085.9,875.8 L2081.4,867.1 L2076.6,858.6 L2071.6,850.3 L2160.7,798.9 L2165.7,807.2 L2170.5,815.7 L2175.0,824.3 L2179.1,833.1 L2183.0,841.9 L2186.5,850.7 L2189.7,859.6 L2192.5,868.5 L2195.0,877.4 L2197.1,886.2 L2198.9,894.9 L2200.3,903.5 L2201.3,911.9 L2201.9,920.2 L2202.1,928.2 L2201.9,936.1 L2201.4,943.7 L2200.4,951.0 L2199.1,958.1 L2197.4,964.8 L2195.4,971.2 L2192.9,977.3 L2190.2,982.9 L2187.0,988.2 L2183.5,993.0 L2179.7,997.5 L2175.6,1001.5 L2171.2,1005.0 L2166.5,1008.1 L2161.5,1010.7 Z" fill="url(#gplate)" stroke="#000" stroke-width="2.6" stroke-linejoin="round" />
<ellipse cx="2090.7" cy="860.3" rx="5.0" ry="6.2" fill="#a0a0a4" stroke="#000" stroke-width="2.2" transform="rotate(-20 2090.7 860.3)"/>
<ellipse cx="2157.8" cy="821.5" rx="5.0" ry="6.2" fill="#a0a0a4" stroke="#000" stroke-width="2.2" transform="rotate(-20 2157.8 821.5)"/>
<path d="M2124.4,1020.8 L2126.4,1016.8 L2128.3,1012.5 L2129.9,1008.1 L2131.3,1003.4 L2132.6,998.6 L2133.6,993.7 L2134.5,988.6 L2135.2,983.3 L2135.6,977.9 L2135.9,972.4 L2136.0,966.7 L2135.9,960.9 L2135.5,955.0 L2135.0,949.1 L2134.3,943.0 L2133.4,936.9 L2132.3,930.7 L2131.0,924.4 L2129.5,918.1 L2127.8,911.8" fill="none" stroke="#141414" stroke-width="4.6" stroke-linejoin="round" stroke-dasharray="3.5 1" />
<path d="M2124.8,900.5 L2124.5,899.5 L2124.1,898.5 L2123.8,897.4 L2123.4,896.4 L2123.0,895.3 L2122.7,894.3 L2122.3,893.3 L2121.9,892.2 L2121.5,891.2 L2121.2,890.1 L2120.8,889.1 L2120.4,888.1 L2120.0,887.0 L2119.6,886.0 L2119.2,885.0 L2118.8,883.9 L2118.3,882.9 L2117.9,881.8 L2117.5,880.8 L2117.1,879.8" fill="none" stroke="#141414" stroke-width="6" stroke-linejoin="round" stroke-dasharray="4 1" />
<path d="M2141.2,887.8 L2140.4,885.5 L2139.7,883.3 L2138.8,881.1 L2138.0,878.9 L2137.2,876.7 L2136.3,874.5 L2135.4,872.3 L2134.5,870.0 L2133.6,867.8 L2132.6,865.6 L2131.6,863.4 L2130.7,861.3 L2129.6,859.1 L2128.6,856.9 L2127.6,854.7 L2126.5,852.5 L2125.4,850.4 L2124.3,848.2 L2123.2,846.1 L2122.1,843.9" fill="none" stroke="#141414" stroke-width="6.6" stroke-linejoin="round" stroke-dasharray="6 1.2 3 1" />
<path d="M2157.4,942.1 L2157.2,939.4 L2157.0,936.7 L2156.7,933.9 L2156.3,931.2 L2155.9,928.4 L2155.5,925.6 L2155.1,922.8 L2154.5,919.9 L2154.0,917.1 L2153.4,914.2 L2152.8,911.4 L2152.1,908.5 L2151.4,905.6 L2150.7,902.7 L2149.9,899.8 L2149.1,896.9 L2148.2,894.0 L2147.3,891.1 L2146.4,888.2 L2145.4,885.3" fill="none" stroke="#141414" stroke-width="6.4" stroke-linejoin="round" stroke-dasharray="5 1.2 7 1.2" />
<path d="M2163.4,938.7 L2163.1,934.4 L2162.6,930.1 L2162.1,925.7 L2161.4,921.3 L2160.6,916.9 L2159.8,912.4 L2158.8,907.9 L2157.8,903.4 L2156.6,898.9 L2155.3,894.3 L2154.0,889.7 L2152.6,885.2 L2151.0,880.6 L2149.4,876.0 L2147.7,871.5 L2145.9,866.9 L2144.0,862.3 L2142.0,857.8 L2140.0,853.3 L2137.8,848.8" fill="none" stroke="#141414" stroke-width="7" stroke-linejoin="round" stroke-dasharray="7 1.3 4 1" />
<path d="M2169.4,935.2 L2169.1,930.9 L2168.6,926.6 L2168.1,922.2 L2167.4,917.8 L2166.6,913.4 L2165.8,908.9 L2164.8,904.4 L2163.8,899.9 L2162.6,895.4 L2161.4,890.8 L2160.0,886.3 L2158.6,881.7 L2157.0,877.1 L2155.4,872.6 L2153.7,868.0 L2151.9,863.4 L2150.0,858.9 L2148.0,854.3 L2146.0,849.8 L2143.8,845.3" fill="none" stroke="#141414" stroke-width="7" stroke-linejoin="round" stroke-dasharray="5 1.2 8 1.4" />
<path d="M2175.0,926.5 L2174.6,922.5 L2174.0,918.4 L2173.4,914.2 L2172.7,910.1 L2171.9,905.9 L2171.0,901.6 L2170.0,897.4 L2168.9,893.1 L2167.8,888.9 L2166.6,884.6 L2165.2,880.3 L2163.9,876.0 L2162.4,871.7 L2160.8,867.4 L2159.2,863.1 L2157.5,858.8 L2155.7,854.6 L2153.8,850.3 L2151.9,846.1 L2149.8,841.8" fill="none" stroke="#141414" stroke-width="6.4" stroke-linejoin="round" stroke-dasharray="6 1.4 4 1" />
<path d="M2167.2,993.6 L2168.1,991.6 L2169.0,989.6 L2169.8,987.5 L2170.6,985.4 L2171.3,983.2 L2172.0,981.0 L2172.6,978.7 L2173.2,976.4 L2173.8,974.1 L2174.3,971.7 L2174.8,969.3 L2175.2,966.9 L2175.6,964.4 L2175.9,961.9 L2176.2,959.4 L2176.4,956.8 L2176.6,954.2 L2176.8,951.6 L2176.9,948.9 L2177.0,946.2" fill="none" stroke="#141414" stroke-width="7.5" stroke-linejoin="round" stroke-dasharray="8 1.5" />
<path d="M2152.1,988.3 L2152.4,987.2 L2152.6,986.1 L2152.9,985.1 L2153.1,984.0 L2153.3,982.9 L2153.5,981.8 L2153.7,980.7 L2153.9,979.6 L2154.1,978.5 L2154.3,977.4 L2154.4,976.2 L2154.6,975.1 L2154.7,973.9 L2154.9,972.8 L2155.0,971.6 L2155.1,970.5 L2155.2,969.3 L2155.3,968.1 L2155.4,966.9 L2155.5,965.7" fill="none" stroke="#141414" stroke-width="9" stroke-linejoin="round" stroke-dasharray="6 1.2" />
<path d="M2126.9,1030.0 L2128.2,1028.8 L2129.4,1027.6 L2130.7,1026.3 L2131.9,1024.9 L2133.1,1023.6 L2134.3,1022.1 L2135.4,1020.7 L2136.5,1019.2 L2137.5,1017.6 L2138.5,1016.0 L2139.5,1014.4 L2140.5,1012.7 L2141.4,1011.0 L2142.3,1009.3 L2143.2,1007.5 L2144.0,1005.7 L2144.8,1003.8 L2145.5,1001.9 L2146.2,1000.0 L2146.9,998.1" fill="none" stroke="#141414" stroke-width="8" stroke-linejoin="round" stroke-dasharray="7 1.5" />
<path d="M2132.6,1027.4 L2134.1,1026.2 L2135.6,1024.9 L2137.0,1023.6 L2138.4,1022.2 L2139.8,1020.7 L2141.1,1019.2 L2142.4,1017.7 L2143.6,1016.1 L2144.8,1014.4 L2146.0,1012.7 L2147.1,1011.0 L2148.2,1009.2 L2149.3,1007.3 L2150.3,1005.4 L2151.2,1003.5 L2152.1,1001.5 L2153.0,999.5 L2153.9,997.4 L2154.7,995.3 L2155.4,993.2" fill="none" stroke="#141414" stroke-width="9.5" stroke-linejoin="round" stroke-dasharray="9 1.2" />
<path d="M2141.1,1022.5 L2142.2,1021.6 L2143.3,1020.7 L2144.4,1019.8 L2145.4,1018.8 L2146.4,1017.8 L2147.4,1016.7 L2148.4,1015.7 L2149.4,1014.6 L2150.3,1013.5 L2151.2,1012.3 L2152.1,1011.2 L2153.0,1010.0 L2153.9,1008.7 L2154.7,1007.5 L2155.5,1006.2 L2156.3,1004.9 L2157.1,1003.6 L2157.8,1002.3 L2158.6,1000.9 L2159.3,999.5" fill="none" stroke="#141414" stroke-width="8.5" stroke-linejoin="round" stroke-dasharray="6 1.5" />
<ellipse cx="2085.1" cy="977.2" rx="11.5" ry="14.5" fill="#6a6a6a" stroke="#000" stroke-width="3" transform="rotate(-28 2085.1 977.2)"/>
<ellipse cx="2085.6" cy="977.7" rx="6.0" ry="8.0" fill="#8a8a8a" stroke="#000" stroke-width="2" transform="rotate(-28 2085.6 977.7)"/>
<ellipse cx="2085.6" cy="977.7" rx="2.5" ry="3.5" fill="#707070" stroke="#000" stroke-width="1.2" transform="rotate(-28 2085.6 977.7)"/>
<ellipse cx="1979.0" cy="793.5" rx="11.5" ry="14.5" fill="#6a6a6a" stroke="#000" stroke-width="3" transform="rotate(-28 1979.0 793.5)"/>
<ellipse cx="1979.5" cy="794.0" rx="6.0" ry="8.0" fill="#8a8a8a" stroke="#000" stroke-width="2" transform="rotate(-28 1979.5 794.0)"/>
<ellipse cx="1979.5" cy="794.0" rx="2.5" ry="3.5" fill="#707070" stroke="#000" stroke-width="1.2" transform="rotate(-28 1979.5 794.0)"/>
<ellipse cx="1872.9" cy="854.8" rx="11.5" ry="14.5" fill="#6a6a6a" stroke="#000" stroke-width="3" transform="rotate(-28 1872.9 854.8)"/>
<ellipse cx="1873.4" cy="855.3" rx="6.0" ry="8.0" fill="#8a8a8a" stroke="#000" stroke-width="2" transform="rotate(-28 1873.4 855.3)"/>
<ellipse cx="1873.4" cy="855.3" rx="2.5" ry="3.5" fill="#707070" stroke="#000" stroke-width="1.2" transform="rotate(-28 1873.4 855.3)"/>
<ellipse cx="1979.0" cy="1038.5" rx="11.5" ry="14.5" fill="#6a6a6a" stroke="#000" stroke-width="3" transform="rotate(-28 1979.0 1038.5)"/>
<ellipse cx="1979.5" cy="1039.0" rx="6.0" ry="8.0" fill="#8a8a8a" stroke="#000" stroke-width="2" transform="rotate(-28 1979.5 1039.0)"/>
<ellipse cx="1979.5" cy="1039.0" rx="2.5" ry="3.5" fill="#707070" stroke="#000" stroke-width="1.2" transform="rotate(-28 1979.5 1039.0)"/>
<circle cx="1891.5" cy="837.5" r="1.3" fill="#333" stroke="none" stroke-width="0"/>
<circle cx="1900.0" cy="859.5" r="1.3" fill="#333" stroke="none" stroke-width="0"/>
<circle cx="1900.0" cy="886.0" r="1.3" fill="#333" stroke="none" stroke-width="0"/>
<circle cx="1891.5" cy="898.0" r="1.3" fill="#333" stroke="none" stroke-width="0"/>
<circle cx="2063.5" cy="936.5" r="1.3" fill="#333" stroke="none" stroke-width="0"/>
<circle cx="2055.5" cy="949.5" r="1.3" fill="#333" stroke="none" stroke-width="0"/>
<circle cx="2056.0" cy="975.5" r="1.3" fill="#333" stroke="none" stroke-width="0"/>
<circle cx="2063.5" cy="998.0" r="1.3" fill="#333" stroke="none" stroke-width="0"/>
<ellipse cx="2225.0" cy="634.0" rx="17.5" ry="10.5" fill="#a8a8a8" stroke="#000" stroke-width="3.6" transform="rotate(-3 2225.0 634.0)"/>
<ellipse cx="2225.0" cy="634.0" rx="7.0" ry="4.2" fill="#1a1a1a" stroke="none" stroke-width="0" transform="rotate(-3 2225.0 634.0)"/>
<ellipse cx="2225.0" cy="634.0" rx="2.0" ry="1.4" fill="#777" stroke="none" stroke-width="0"/>
<ellipse cx="2346.5" cy="844.5" rx="12.0" ry="17.0" fill="#8a8a8a" stroke="#000" stroke-width="2.8" transform="rotate(28 2346.5 844.5)"/>
<ellipse cx="2346.5" cy="844.5" rx="4.5" ry="6.0" fill="#9a9a9a" stroke="#000" stroke-width="2" transform="rotate(28 2346.5 844.5)"/>
<ellipse cx="2346.5" cy="844.5" rx="1.5" ry="2.2" fill="#333" stroke="none" stroke-width="0" transform="rotate(28 2346.5 844.5)"/>
<defs><linearGradient id="gcb" gradientUnits="userSpaceOnUse" x1="2478" y1="822" x2="2532" y2="853"><stop offset="0" stop-color="#4a4a4c"/><stop offset="0.18" stop-color="#6e6e70"/><stop offset="0.3" stop-color="#3c3c3e"/><stop offset="0.45" stop-color="#77777a"/><stop offset="0.58" stop-color="#444446"/><stop offset="0.8" stop-color="#5a5a5c"/><stop offset="1" stop-color="#3e3e40"/></linearGradient><linearGradient id="gctop" gradientUnits="userSpaceOnUse" x1="2370" y1="780" x2="2500" y2="715"><stop offset="0" stop-color="#b0b0b0"/><stop offset="0.3" stop-color="#969696"/><stop offset="1" stop-color="#8a8a8a"/></linearGradient></defs>
<path d="M2364.5,781.4 L2368.5,774.8 L2386.4,790.0 L2385.7,887.4 L2364.5,875.4 Q2373.1,829.1 2364.5,781.4 Z" fill="#bcbcbc" stroke="#000" stroke-width="3.4" stroke-linejoin="round" />
<path d="M2365.8,781.4 L2369.1,775.8 L2385.7,790.0 L2382.4,792.6 Z" fill="#ececec" stroke="none" stroke-width="0" stroke-linejoin="round" />
<path d="M2386.4,790.0 L2502.9,723.8 L2503.6,750.9 L2414.2,874.1 L2386.4,887.4 Z" fill="#b6b6b6" stroke="#000" stroke-width="2.6" stroke-linejoin="round" />
<path d="M2368.5,774.8 L2477.7,711.2 L2482.4,709.2 L2503.6,722.8 L2386.4,790.0 Z" fill="url(#gctop)" stroke="#000" stroke-width="3.4" stroke-linejoin="round" />
<path d="M2403.6,782.7 L2440.7,801.3 L2438.7,884.0 L2403.6,866.8 Z" fill="#b4b4b4" stroke="#000" stroke-width="2.8" stroke-linejoin="round" />
<path d="M2413.5,776.8 L2477.7,740.1 L2506.2,763.5 L2451.3,796.0 L2442.0,797.9 Z" fill="#8c8c8c" stroke="#000" stroke-width="2.8" stroke-linejoin="round" />
<path d="M2403.8,791.3 L2405.6,782.1 L2413.5,777.2 L2446.0,795.3 L2441.3,805.2 Z" fill="#e6e6e6" stroke="none" stroke-width="0" stroke-linejoin="round" />
<path d="M2403.6,866.8 L2403.6,782.7 L2413.5,776.8 L2477.7,740.1" fill="none" stroke="#000" stroke-width="2.8" stroke-linejoin="round" />
<path d="M2405.6,864.8 L2438.7,881.4" fill="none" stroke="#000" stroke-width="1.6" stroke-linejoin="round" />
<path d="M2404.9,792.0 L2440.7,809.9" fill="none" stroke="#000" stroke-width="1.6" stroke-linejoin="round" />
<path d="M2440.7,803.9 L2446.0,797.9 L2453.9,795.3 L2505.6,763.5 L2518.1,762.2 L2530.7,772.1 L2535.0,782.7 L2532.7,796.0 L2531.4,806.6 L2485.7,875.4 L2480.4,880.7 L2472.5,892.6 L2456.6,895.6 L2440.7,886.3 Z" fill="#5c5c62" stroke="#000" stroke-width="3.4" stroke-linejoin="round" />
<path d="M2442.6,805.2 L2453.9,797.3 L2453.9,888.7 L2442.6,883.6 Z" fill="#9a9aa0" stroke="#000" stroke-width="1.6" stroke-linejoin="round" />
<path d="M2456.6,796.0 L2510.9,765.5 L2518.1,769.5 L2463.8,802.6 Z" fill="#a2a2a8" stroke="#000" stroke-width="1.6" stroke-linejoin="round" />
<path d="M2451.3,795.3 L2505.6,763.8" fill="none" stroke="#000" stroke-width="5" stroke-linejoin="round" />
<path d="M2439.3,802.6 L2439.1,884.7" fill="none" stroke="#000" stroke-width="4.5" stroke-linejoin="round" />
<ellipse cx="2467.2" cy="820.5" rx="12.0" ry="15.5" fill="#707074" stroke="#000" stroke-width="4.2" transform="rotate(28 2467.2 820.5)"/>
<ellipse cx="2470.7" cy="822.5" rx="6.5" ry="9.5" fill="#4a4a4c" stroke="#000" stroke-width="2.6" transform="rotate(28 2470.7 822.5)"/>
<ellipse cx="2523.4" cy="786.0" rx="12.0" ry="15.5" fill="#707074" stroke="#000" stroke-width="4.2" transform="rotate(28 2523.4 786.0)"/>
<ellipse cx="2526.9" cy="788.0" rx="6.5" ry="9.5" fill="#4a4a4c" stroke="#000" stroke-width="2.6" transform="rotate(28 2526.9 788.0)"/>
<ellipse cx="2467.8" cy="881.4" rx="12.0" ry="15.5" fill="#707074" stroke="#000" stroke-width="4.2" transform="rotate(28 2467.8 881.4)"/>
<ellipse cx="2471.3" cy="883.4" rx="6.5" ry="9.5" fill="#4a4a4c" stroke="#000" stroke-width="2.6" transform="rotate(28 2471.3 883.4)"/>
<path d="M2506.9,800.5 L2503.6,799.2 L2499.9,798.9 L2495.8,799.5 L2491.6,801.1 L2487.3,803.6 L2483.0,806.9 L2479.0,811.0 L2475.2,815.6 L2471.9,820.7 L2469.2,826.1 L2467.0,831.7 L2465.5,837.2 L2464.8,842.6 L2464.8,847.6 L2465.5,852.0 L2467.0,855.9 L2469.1,858.9 L2471.9,861.1 L2475.3,863.6 L2478.8,865.9 L2482.4,868.0 L2486.2,869.8 L2490.0,871.5 L2493.8,873.2 L2497.5,875.1 L2501.1,877.3 L2504.5,879.6 L2507.9,882.1 L2511.3,884.5 L2515.2,886.1 L2518.5,887.4 L2522.3,887.8 L2526.3,887.1 L2530.6,885.5 L2534.9,883.0 L2539.1,879.7 L2543.2,875.7 L2546.9,871.0 L2550.2,865.9 L2553.0,860.5 L2555.1,854.9 L2556.6,849.4 L2557.4,844.1 L2557.4,839.1 L2556.6,834.6 L2555.1,830.8 L2553.0,827.7 L2550.2,825.5 L2546.8,823.1 L2543.3,820.7 L2539.7,818.7 L2536.0,816.9 L2532.1,815.2 L2528.3,813.5 L2524.6,811.6 L2521.0,809.4 L2517.6,807.0 L2514.2,804.5 L2510.8,802.1 Z" fill="url(#gcb)" stroke="#000" stroke-width="3.2" stroke-linejoin="round" />
<ellipse cx="2532.7" cy="855.8" rx="20.5" ry="35.5" fill="#4c4c4e" stroke="#000" stroke-width="3.2" transform="rotate(30 2532.7 855.8)"/>
<ellipse cx="2532.7" cy="855.8" rx="17.0" ry="30.5" fill="#58585a" stroke="#000" stroke-width="1.4" transform="rotate(30 2532.7 855.8)"/>
<ellipse cx="2533.2" cy="856.3" rx="14.0" ry="26.0" fill="#8e8e92" stroke="#000" stroke-width="2.2" transform="rotate(30 2533.2 856.3)"/>
<path d="M2518.1,860.9 L2529.4,867.5" fill="none" stroke="#222" stroke-width="4.5" stroke-linejoin="round" />
<path d="M2518.8,859.8 L2529.1,865.9" fill="none" stroke="#aaa" stroke-width="1.6" stroke-linejoin="round" />
<circle cx="2537.4" cy="842.3" r="3.4" fill="#777" stroke="#000" stroke-width="2.4"/>
<circle cx="2520.8" cy="850.9" r="3.0" fill="#333" stroke="#000" stroke-width="2.4"/>
<rect x="126.1" y="66.9" width="3247.9" height="2345.9" rx="0" fill="none" stroke="#000" stroke-width="2.0"/>
<line x1="518.5" y1="41.0" x2="518.5" y2="66.9" stroke="#000" stroke-width="2.0" stroke-linecap="butt"/>
<line x1="518.5" y1="2412.8" x2="518.5" y2="2437.5" stroke="#000" stroke-width="2.0" stroke-linecap="butt"/>
<line x1="936.0" y1="41.0" x2="936.0" y2="66.9" stroke="#000" stroke-width="2.0" stroke-linecap="butt"/>
<line x1="936.0" y1="2412.8" x2="936.0" y2="2437.5" stroke="#000" stroke-width="2.0" stroke-linecap="butt"/>
<line x1="1354.5" y1="41.0" x2="1354.5" y2="66.9" stroke="#000" stroke-width="2.0" stroke-linecap="butt"/>
<line x1="1354.5" y1="2412.8" x2="1354.5" y2="2437.5" stroke="#000" stroke-width="2.0" stroke-linecap="butt"/>
<line x1="1771.0" y1="41.0" x2="1771.0" y2="66.9" stroke="#000" stroke-width="2.0" stroke-linecap="butt"/>
<line x1="1771.0" y1="2412.8" x2="1771.0" y2="2437.5" stroke="#000" stroke-width="2.0" stroke-linecap="butt"/>
<line x1="2188.0" y1="41.0" x2="2188.0" y2="66.9" stroke="#000" stroke-width="2.0" stroke-linecap="butt"/>
<line x1="2188.0" y1="2412.8" x2="2188.0" y2="2437.5" stroke="#000" stroke-width="2.0" stroke-linecap="butt"/>
<line x1="2606.0" y1="41.0" x2="2606.0" y2="66.9" stroke="#000" stroke-width="2.0" stroke-linecap="butt"/>
<line x1="2606.0" y1="2412.8" x2="2606.0" y2="2437.5" stroke="#000" stroke-width="2.0" stroke-linecap="butt"/>
<line x1="3024.0" y1="41.0" x2="3024.0" y2="66.9" stroke="#000" stroke-width="2.0" stroke-linecap="butt"/>
<line x1="3024.0" y1="2412.8" x2="3024.0" y2="2437.5" stroke="#000" stroke-width="2.0" stroke-linecap="butt"/>
<line x1="1019.5" y1="0.0" x2="1019.5" y2="68.4" stroke="#000" stroke-width="3.0" stroke-linecap="butt"/>
<line x1="1019.5" y1="2411.3" x2="1019.5" y2="2480.0" stroke="#000" stroke-width="3.0" stroke-linecap="butt"/>
<line x1="1897.0" y1="0.0" x2="1897.0" y2="68.4" stroke="#000" stroke-width="3.0" stroke-linecap="butt"/>
<line x1="1897.0" y1="2411.3" x2="1897.0" y2="2480.0" stroke="#000" stroke-width="3.0" stroke-linecap="butt"/>
<line x1="100.0" y1="535.5" x2="126.1" y2="535.5" stroke="#000" stroke-width="2.0" stroke-linecap="butt"/>
<line x1="100.0" y1="1005.5" x2="126.1" y2="1005.5" stroke="#000" stroke-width="2.0" stroke-linecap="butt"/>
<line x1="100.0" y1="1475.5" x2="126.1" y2="1475.5" stroke="#000" stroke-width="2.0" stroke-linecap="butt"/>
<line x1="100.0" y1="1944.0" x2="126.1" y2="1944.0" stroke="#000" stroke-width="2.0" stroke-linecap="butt"/>
<line x1="0.0" y1="1240.5" x2="127.6" y2="1240.5" stroke="#000" stroke-width="3.0" stroke-linecap="butt"/>
<text x="137.5" y="62.5" style="font-family:'Liberation Serif',serif;font-size:25.5px;font-style:italic;font-weight:bold;" textLength="465.0" lengthAdjust="spacing" >-RESİM ÜZERİNDEN ÖLÇÜ ALMAYINIZ</text>
<text x="609.0" y="62.5" style="font-family:'Liberation Serif',serif;font-size:25.5px;font-style:italic;" textLength="269.0" lengthAdjust="spacing" >/ DO NOT SCALE PRINT-</text>
<text x="3374.0" y="2427.7" style="font-family:'Liberation Serif',serif;font-size:18px;" text-anchor="end" textLength="217.0" lengthAdjust="spacing" >TEPAŞ FORM-P03-11B-R0</text>
<text x="3401.0" y="1137.0" style="font-family:'Liberation Serif',serif;font-size:27px;font-style:italic;" textLength="699.0" lengthAdjust="spacing" transform="rotate(-90 3401.0 1137.0)" >All rights reserved. Reproduction or issue to third parties in anyform</text>
<text x="3428.5" y="1131.5" style="font-family:'Liberation Serif',serif;font-size:27px;font-style:italic;" textLength="720.0" lengthAdjust="spacing" transform="rotate(-90 3428.5 1131.5)" >whatsoever is not permitted without written permission of the company.</text>
<text x="3401.0" y="2100.0" style="font-family:'Liberation Serif',serif;font-size:27px;font-style:italic;" textLength="746.0" lengthAdjust="spacing" transform="rotate(-90 3401.0 2100.0)" >Her hakkı saklıdır. Yazılı izin olmadan dökümanların hiç bir kısmı kopya,</text>
<text x="3428.5" y="2100.0" style="font-family:'Liberation Serif',serif;font-size:27px;font-style:italic;" textLength="765.0" lengthAdjust="spacing" transform="rotate(-90 3428.5 2100.0)" >kayıt, basım veya diğer herhangi bir şekilde çoğaltılamaz ve yayımlanamaz.</text>
<line x1="2121.5" y1="2262.5" x2="3374.0" y2="2262.5" stroke="#000" stroke-width="2.0" stroke-linecap="butt"/>
<line x1="2121.5" y1="2262.5" x2="2121.5" y2="2412.8" stroke="#000" stroke-width="2.0" stroke-linecap="butt"/>
<line x1="2283.0" y1="2262.5" x2="2283.0" y2="2412.8" stroke="#000" stroke-width="2.0" stroke-linecap="butt"/>
<line x1="2473.0" y1="2262.5" x2="2473.0" y2="2412.8" stroke="#000" stroke-width="2.0" stroke-linecap="butt"/>
<line x1="2839.0" y1="2262.5" x2="2839.0" y2="2412.8" stroke="#000" stroke-width="2.0" stroke-linecap="butt"/>
<line x1="3240.0" y1="2262.5" x2="3240.0" y2="2412.8" stroke="#000" stroke-width="2.0" stroke-linecap="butt"/>
<line x1="2974.0" y1="2262.5" x2="2974.0" y2="2334.5" stroke="#000" stroke-width="2.0" stroke-linecap="butt"/>
<line x1="3105.0" y1="2262.5" x2="3105.0" y2="2334.5" stroke="#000" stroke-width="2.0" stroke-linecap="butt"/>
<line x1="3168.5" y1="2262.5" x2="3168.5" y2="2334.5" stroke="#000" stroke-width="2.0" stroke-linecap="butt"/>
<line x1="2121.5" y1="2312.5" x2="2473.0" y2="2312.5" stroke="#000" stroke-width="2.0" stroke-linecap="butt"/>
<line x1="2121.5" y1="2362.0" x2="2473.0" y2="2362.0" stroke="#000" stroke-width="2.0" stroke-linecap="butt"/>
<line x1="2839.0" y1="2334.5" x2="3240.0" y2="2334.5" stroke="#000" stroke-width="2.0" stroke-linecap="butt"/>
<line x1="3168.5" y1="2298.0" x2="3240.0" y2="2298.0" stroke="#000" stroke-width="2.0" stroke-linecap="butt"/>
<line x1="3240.0" y1="2375.5" x2="3374.0" y2="2375.5" stroke="#000" stroke-width="2.0" stroke-linecap="butt"/>
<text x="2136.5" y="2280.5" style="font-family:'Liberation Serif',serif;font-size:16.5px;font-style:italic;font-weight:bold;" textLength="58.0" lengthAdjust="spacing" >ÇİZEN</text>
<text x="0" y="0" transform="translate(2199.0,2280.5) scale(0.9,1)" style="font-family:'Liberation Serif',serif;font-size:16.5px;font-style:italic;" textLength="56.7" lengthAdjust="spacing" >/ DRN.</text>
<text x="0" y="0" transform="translate(2150.5,2304.5) scale(0.9,1)" style="font-family:'Liberation Serif',serif;font-size:25px;font-style:italic;" textLength="116.7" lengthAdjust="spacing" >E. POLAT</text>
<text x="2133.0" y="2329.5" style="font-family:'Liberation Serif',serif;font-size:16.5px;font-style:italic;font-weight:bold;" textLength="88.0" lengthAdjust="spacing" >KONTROL</text>
<text x="0" y="0" transform="translate(2226.0,2329.5) scale(0.9,1)" style="font-family:'Liberation Serif',serif;font-size:16.5px;font-style:italic;" textLength="57.8" lengthAdjust="spacing" >/ CHK.</text>
<text x="0" y="0" transform="translate(2129.5,2354.5) scale(0.9,1)" style="font-family:'Liberation Serif',serif;font-size:25px;font-style:italic;" textLength="159.4" lengthAdjust="spacing" >C. ERDURAK</text>
<text x="2133.0" y="2379.5" style="font-family:'Liberation Serif',serif;font-size:16.5px;font-style:italic;font-weight:bold;" textLength="51.0" lengthAdjust="spacing" >ONAY</text>
<text x="0" y="0" transform="translate(2189.0,2379.5) scale(0.9,1)" style="font-family:'Liberation Serif',serif;font-size:16.5px;font-style:italic;" textLength="54.4" lengthAdjust="spacing" >/ APP.</text>
<text x="0" y="0" transform="translate(2145.5,2404.0) scale(0.9,1)" style="font-family:'Liberation Serif',serif;font-size:25px;font-style:italic;" textLength="125.0" lengthAdjust="spacing" >M. AKSOY</text>
<text x="0" y="0" transform="translate(2535.0,2289.5) scale(0.9,1)" style="font-family:'Liberation Serif',serif;font-size:35px;font-style:italic;" textLength="262.2" lengthAdjust="spacing" >BMC ÖN ISITMA</text>
<text x="0" y="0" transform="translate(2535.0,2329.5) scale(0.9,1)" style="font-family:'Liberation Serif',serif;font-size:35px;font-style:italic;" textLength="261.1" lengthAdjust="spacing" >POMPASI (7330)</text>
<text x="0" y="0" transform="translate(2578.5,2381.5) scale(0.9,1)" style="font-family:'Liberation Serif',serif;font-size:24px;font-style:italic;" textLength="171.1" lengthAdjust="spacing" >0,4 BAR 120LT</text>
<text x="2844.0" y="2283.0" style="font-family:'Liberation Serif',serif;font-size:16.5px;font-style:italic;font-weight:bold;" textLength="58.0" lengthAdjust="spacing" >TARİH</text>
<text x="0" y="0" transform="translate(2907.0,2283.0) scale(0.9,1)" style="font-family:'Liberation Serif',serif;font-size:16.5px;font-style:italic;" textLength="64.4" lengthAdjust="spacing" >/ DATE</text>
<text x="0" y="0" transform="translate(2850.0,2318.0) scale(0.9,1)" style="font-family:'Liberation Serif',serif;font-size:25px;font-style:italic;" textLength="123.9" lengthAdjust="spacing" >17.05.2021</text>
<text x="0" y="0" transform="translate(2981.5,2283.0) scale(0.9,1)" style="font-family:'Liberation Serif',serif;font-size:15px;font-style:italic;" textLength="127.2" lengthAdjust="spacing" >ÖLÇEK / SCALE</text>
<text x="0" y="0" transform="translate(3006.0,2322.0) scale(0.9,1)" style="font-family:'Liberation Serif',serif;font-size:36px;font-style:italic;" textLength="73.9" lengthAdjust="spacing" >1 : 2</text>
<text x="0" y="0" transform="translate(3111.5,2283.0) scale(0.9,1)" style="font-family:'Liberation Serif',serif;font-size:15px;font-style:italic;" textLength="52.2" lengthAdjust="spacing" >SAYFA</text>
<text x="0" y="0" transform="translate(3108.5,2319.5) scale(0.9,1)" style="font-family:'Liberation Serif',serif;font-size:29px;font-style:italic;" textLength="48.9" lengthAdjust="spacing" >1 /1</text>
<text x="3172.5" y="2282.0" style="font-family:'Liberation Serif',serif;font-size:7.5px;font-style:italic;font-weight:bold;" textLength="25.0" lengthAdjust="spacing" >FORM</text>
<text x="0" y="0" transform="translate(3207.5,2286.5) scale(0.9,1)" style="font-family:'Liberation Serif',serif;font-size:22px;font-style:italic;" textLength="27.8" lengthAdjust="spacing" >A3</text>
<text x="2852.5" y="2363.0" style="font-family:'Liberation Serif',serif;font-size:18px;font-style:italic;font-weight:bold;" textLength="95.0" lengthAdjust="spacing" >RESİM NO.</text>
<text x="0" y="0" transform="translate(2948.0,2363.0) scale(0.9,1)" style="font-family:'Liberation Serif',serif;font-size:18px;font-style:italic;" textLength="139.4" lengthAdjust="spacing" >/DRAWING NO.</text>
<text x="0" y="0" transform="translate(2867.5,2401.5) scale(0.9,1)" style="font-family:'Liberation Serif',serif;font-size:36px;font-style:italic;" textLength="380.6" lengthAdjust="spacing" >T0.01.242.227330 -R0</text>
<path d="M3173.5,2310.5 L3200.0,2305.5 L3200.0,2328.5 L3173.5,2323.5 Z" fill="none" stroke="#000" stroke-width="2" stroke-linejoin="round" />
<line x1="3169.5" y1="2317.0" x2="3236.0" y2="2317.0" stroke="#000" stroke-width="1.6" stroke-linecap="butt"/>
<circle cx="3219.0" cy="2317.0" r="11.5" fill="none" stroke="#000" stroke-width="2"/>
<circle cx="3219.0" cy="2317.0" r="5.5" fill="none" stroke="#000" stroke-width="2"/>
<line x1="3219.0" y1="2302.0" x2="3219.0" y2="2332.0" stroke="#000" stroke-width="1.6" stroke-linecap="butt"/>
<path d="M3268.5,2283.5 L3287,2283.5 L3287,2275.5 C3303,2274.5 3317,2271.5 3326.5,2269 L3326.5,2283.5 L3345,2283.5 L3345,2290.5 L3326.5,2290.5 L3326.5,2340 C3326.5,2352 3338,2352 3341,2342 L3341,2333 L3347.5,2333 C3348,2350 3340,2364.5 3319,2364.5 C3297,2364.5 3287,2352 3287,2334 L3287,2290.5 L3268.5,2290.5 Z" fill="#fff" stroke="#000" stroke-width="2" stroke-linejoin="round" />
<clipPath id="tepclip"><rect x="3242" y="2377" width="130" height="28.6"/></clipPath>
<g clip-path="url(#tepclip)"><text x="3254" y="2404.4" textLength="104" lengthAdjust="spacingAndGlyphs" style="font-family:'Liberation Serif',serif;font-size:44px;font-weight:bold;stroke:#000;stroke-width:1.8px">tepaş</text></g>
<circle cx="3349.7" cy="2407.2" r="1.2" fill="#000"/>
<text x="2685.0" y="937.0" style="font-family:'Liberation Serif',serif;font-size:35.5px;font-style:italic;" textLength="592.5" lengthAdjust="spacing" >TEKNİK BİLGİ VE GEREKSİNİMLER</text>
<text x="2713.5" y="977.0" style="font-family:'Liberation Serif',serif;font-size:35.5px;font-style:italic;" textLength="482.5" lengthAdjust="spacing" >- EMC, MIL-STD 461 E'ye göre</text>
<text x="2685.0" y="1016.5" style="font-family:'Liberation Serif',serif;font-size:35.5px;font-style:italic;" textLength="225.0" lengthAdjust="spacing" >RE102, CE102</text>
<text x="2713.5" y="1057.0" style="font-family:'Liberation Serif',serif;font-size:35.5px;font-style:italic;" textLength="537.5" lengthAdjust="spacing" >- Sıvı: Soğutma suyu %50 glysantin</text>
<text x="2713.5" y="1096.0" style="font-family:'Liberation Serif',serif;font-size:35.5px;font-style:italic;" textLength="499.0" lengthAdjust="spacing" >- Sıvı Sıcaklığı: 110°C pompa ilk</text>
<text x="2685.0" y="1135.5" style="font-family:'Liberation Serif',serif;font-size:35.5px;font-style:italic;" textLength="251.5" lengthAdjust="spacing" >çalıştırma -30°C</text>
<text x="2713.5" y="1175.5" style="font-family:'Liberation Serif',serif;font-size:35.5px;font-style:italic;" textLength="491.5" lengthAdjust="spacing" >- Çevre Sıcaklığı: -40°C / 120°C</text>
<text x="2713.5" y="1215.0" style="font-family:'Liberation Serif',serif;font-size:35.5px;font-style:italic;" textLength="536.5" lengthAdjust="spacing" >- Yüzey koruması: 720 saat tuz testi</text>
<text x="2713.5" y="1254.5" style="font-family:'Liberation Serif',serif;font-size:35.5px;font-style:italic;" textLength="381.5" lengthAdjust="spacing" >- Anma gerilimi: 28V DC</text>
<text x="2713.5" y="1294.0" style="font-family:'Liberation Serif',serif;font-size:35.5px;font-style:italic;" textLength="641.5" lengthAdjust="spacing" >- Maksimum çalışma akımı: 28V DC / 12A</text>
<text x="2713.5" y="1333.5" style="font-family:'Liberation Serif',serif;font-size:35.5px;font-style:italic;" textLength="580.0" lengthAdjust="spacing" >- Maksimum güç girişi: 28V DC 336W</text>
<text x="2713.5" y="1372.5" style="font-family:'Liberation Serif',serif;font-size:35.5px;font-style:italic;" textLength="465.0" lengthAdjust="spacing" >- Sızdırmazlık: EN 60529 IP68</text>
<text x="2713.5" y="1412.0" style="font-family:'Liberation Serif',serif;font-size:35.5px;font-style:italic;" textLength="519.0" lengthAdjust="spacing" >- Sızdırmazlık testi: 0.6 bar pozitif</text>
<text x="2685.0" y="1452.0" style="font-family:'Liberation Serif',serif;font-size:35.5px;font-style:italic;" textLength="442.5" lengthAdjust="spacing" >basınçta sızıntı olmayacaktır.</text>
<text x="2713.5" y="1491.0" style="font-family:'Liberation Serif',serif;font-size:35.5px;font-style:italic;" textLength="211.5" lengthAdjust="spacing" >- Ağırlık: 3 kg</text>
<path d="M2844,1866.5 L2844,1855.5 L2855,1855.5" fill="none" stroke="#000" stroke-width="2.0" stroke-linejoin="round" />
<path d="M3166.5,1855.5 L3177.5,1855.5 L3177.5,1866.5" fill="none" stroke="#000" stroke-width="2.0" stroke-linejoin="round" />
<path d="M2844,2190.5 L2844,2201.5 L2855,2201.5" fill="none" stroke="#000" stroke-width="2.0" stroke-linejoin="round" />
<path d="M3166.5,2201.5 L3177.5,2201.5 L3177.5,2190.5" fill="none" stroke="#000" stroke-width="2.0" stroke-linejoin="round" />
<line x1="2879.0" y1="1855.5" x2="3157.5" y2="1855.5" stroke="#000" stroke-width="2.0" stroke-dasharray="24 23.6" stroke-linecap="butt"/>
<line x1="2879.0" y1="2201.5" x2="3157.5" y2="2201.5" stroke="#000" stroke-width="2.0" stroke-dasharray="24 23.6" stroke-linecap="butt"/>
<line x1="2844.0" y1="1890.5" x2="2844.0" y2="2181.5" stroke="#000" stroke-width="2.0" stroke-dasharray="24 23.6" stroke-linecap="butt"/>
<line x1="3177.5" y1="1890.5" x2="3177.5" y2="2181.5" stroke="#000" stroke-width="2.0" stroke-dasharray="24 23.6" stroke-linecap="butt"/>
<rect x="2879" y="1851.5" width="72" height="8" fill="#fff"/>
<line x1="2879.0" y1="1855.5" x2="2951.0" y2="1855.5" stroke="#000" stroke-width="2.0" stroke-linecap="butt"/>
<line x1="2901.5" y1="1826.0" x2="2901.5" y2="1881.0" stroke="#000" stroke-width="7.2" stroke-linecap="round"/>
<line x1="2915.0" y1="1826.0" x2="2915.0" y2="1881.0" stroke="#000" stroke-width="7.2" stroke-linecap="round"/>
<line x1="2928.5" y1="1826.0" x2="2928.5" y2="1881.0" stroke="#000" stroke-width="7.2" stroke-linecap="round"/>
<path d="M2877.0,1812.5 L2892.5,1828.0 L2892.5,1872.5 L2877.0,1887.5" fill="none" stroke="#000" stroke-width="2.0" stroke-linejoin="round" />
<path d="M2953.0,1812.5 L2937.5,1828.0 L2937.5,1872.5 L2953.0,1887.5" fill="none" stroke="#000" stroke-width="2.0" stroke-linejoin="round" />
<rect x="3074" y="1851.5" width="72" height="8" fill="#fff"/>
<line x1="3074.0" y1="1855.5" x2="3146.0" y2="1855.5" stroke="#000" stroke-width="2.0" stroke-linecap="butt"/>
<line x1="3096.5" y1="1826.0" x2="3096.5" y2="1881.0" stroke="#000" stroke-width="7.2" stroke-linecap="round"/>
<line x1="3110.0" y1="1826.0" x2="3110.0" y2="1881.0" stroke="#000" stroke-width="7.2" stroke-linecap="round"/>
<line x1="3123.5" y1="1826.0" x2="3123.5" y2="1881.0" stroke="#000" stroke-width="7.2" stroke-linecap="round"/>
<path d="M3072.0,1812.5 L3087.5,1828.0 L3087.5,1872.5 L3072.0,1887.5" fill="none" stroke="#000" stroke-width="2.0" stroke-linejoin="round" />
<path d="M3148.0,1812.5 L3132.5,1828.0 L3132.5,1872.5 L3148.0,1887.5" fill="none" stroke="#000" stroke-width="2.0" stroke-linejoin="round" />
<path d="M2915,1881 L2915,2117 L2962.5,2117" fill="none" stroke="#000" stroke-width="2.0" stroke-linejoin="round" />
<path d="M3110,1881 L3110,2117 L3062.5,2117" fill="none" stroke="#000" stroke-width="2.0" stroke-linejoin="round" />
<circle cx="3012.5" cy="2117.0" r="50.0" fill="none" stroke="#000" stroke-width="2.0"/>
<text x="3012.5" y="2135.5" style="font-family:'Liberation Serif',serif;font-size:60px;font-style:italic;" text-anchor="middle" >M</text>
<text x="2885.0" y="1788.0" style="font-family:'Liberation Serif',serif;font-size:60px;font-style:italic;" textLength="57.5" lengthAdjust="spacing" >B-</text>
<text x="3080.0" y="1788.0" style="font-family:'Liberation Serif',serif;font-size:60px;font-style:italic;" textLength="77.5" lengthAdjust="spacing" >A+</text>
<line x1="527.0" y1="216.5" x2="1437.1" y2="216.5" stroke="#000" stroke-width="2.0" stroke-linecap="butt"/>
<path d="M527.0,216.5 L548.0,211.8 L548.0,221.2 Z" fill="#000" stroke="none"/>
<path d="M1437.1,216.5 L1416.1,221.2 L1416.1,211.8 Z" fill="#000" stroke="none"/>
<line x1="527.0" y1="292.5" x2="1284.0" y2="292.5" stroke="#000" stroke-width="2.0" stroke-linecap="butt"/>
<path d="M527.0,292.5 L548.0,287.8 L548.0,297.2 Z" fill="#000" stroke="none"/>
<path d="M1284.0,292.5 L1263.0,297.2 L1263.0,287.8 Z" fill="#000" stroke="none"/>
<line x1="527.0" y1="358.0" x2="1108.5" y2="358.0" stroke="#000" stroke-width="2.0" stroke-linecap="butt"/>
<path d="M527.0,358.0 L548.0,353.2 L548.0,362.8 Z" fill="#000" stroke="none"/>
<path d="M1108.5,358.0 L1087.5,362.8 L1087.5,353.2 Z" fill="#000" stroke="none"/>
<line x1="522.5" y1="413.5" x2="790.0" y2="413.5" stroke="#000" stroke-width="2.0" stroke-linecap="butt"/>
<path d="M522.5,413.5 L543.5,408.8 L543.5,418.2 Z" fill="#000" stroke="none"/>
<path d="M790.0,413.5 L769.0,418.2 L769.0,408.8 Z" fill="#000" stroke="none"/>
<line x1="527.0" y1="206.0" x2="527.0" y2="703.0" stroke="#000" stroke-width="2.0" stroke-linecap="butt"/>
<line x1="1437.1" y1="206.0" x2="1437.1" y2="609.0" stroke="#000" stroke-width="2.0" stroke-linecap="butt"/>
<line x1="1284.0" y1="283.0" x2="1284.0" y2="600.0" stroke="#000" stroke-width="2.0" stroke-linecap="butt"/>
<line x1="1108.5" y1="349.0" x2="1108.5" y2="600.0" stroke="#000" stroke-width="2.0" stroke-linecap="butt"/>
<line x1="522.5" y1="404.0" x2="522.5" y2="616.0" stroke="#000" stroke-width="2.0" stroke-linecap="butt"/>
<line x1="790.0" y1="404.0" x2="790.0" y2="607.0" stroke="#000" stroke-width="2.0" stroke-linecap="butt"/>
<text x="935.0" y="202.0" style="font-family:'Liberation Serif',serif;font-size:35px;font-style:italic;" textLength="52.0" lengthAdjust="spacing" >218</text>
<text x="997.5" y="200.5" style="font-family:'Liberation Serif',serif;font-size:24.5px;font-style:italic;" textLength="27.5" lengthAdjust="spacing" ><tspan style="font-weight:bold;font-style:normal">±</tspan>2</text>
<text x="861.0" y="278.0" style="font-family:'Liberation Serif',serif;font-size:35px;font-style:italic;" textLength="50.0" lengthAdjust="spacing" >181</text>
<text x="922.5" y="276.5" style="font-family:'Liberation Serif',serif;font-size:24.5px;font-style:italic;" textLength="27.5" lengthAdjust="spacing" ><tspan style="font-weight:bold;font-style:normal">±</tspan>2</text>
<text x="772.5" y="345.0" style="font-family:'Liberation Serif',serif;font-size:35px;font-style:italic;" textLength="52.5" lengthAdjust="spacing" >139</text>
<text x="834.0" y="343.5" style="font-family:'Liberation Serif',serif;font-size:24.5px;font-style:italic;" textLength="28.5" lengthAdjust="spacing" ><tspan style="font-weight:bold;font-style:normal">±</tspan>2</text>
<text x="611.0" y="399.0" style="font-family:'Liberation Serif',serif;font-size:35px;font-style:italic;" textLength="34.0" lengthAdjust="spacing" >64</text>
<text x="656.0" y="397.5" style="font-family:'Liberation Serif',serif;font-size:24.5px;font-style:italic;" textLength="45.0" lengthAdjust="spacing" ><tspan style="font-weight:bold;font-style:normal">±</tspan>0.2</text>
<line x1="522.5" y1="623.0" x2="522.5" y2="634.0" stroke="#000" stroke-width="2.0" stroke-linecap="butt"/>
<line x1="522.5" y1="640.0" x2="522.5" y2="681.0" stroke="#000" stroke-width="2.0" stroke-linecap="butt"/>
<line x1="522.5" y1="688.0" x2="522.5" y2="703.0" stroke="#000" stroke-width="2.0" stroke-linecap="butt"/>
<line x1="790.0" y1="623.0" x2="790.0" y2="634.0" stroke="#000" stroke-width="2.0" stroke-linecap="butt"/>
<line x1="790.0" y1="640.0" x2="790.0" y2="681.0" stroke="#000" stroke-width="2.0" stroke-linecap="butt"/>
<line x1="790.0" y1="688.0" x2="790.0" y2="703.0" stroke="#000" stroke-width="2.0" stroke-linecap="butt"/>
<line x1="445.0" y1="660.4" x2="489.0" y2="660.4" stroke="#000" stroke-width="2.0" stroke-linecap="butt"/>
<line x1="451.5" y1="660.4" x2="451.5" y2="783.9" stroke="#000" stroke-width="2.0" stroke-linecap="butt"/>
<path d="M451.5,660.4 L456.2,681.4 L446.8,681.4 Z" fill="#000" stroke="none"/>
<path d="M451.5,783.9 L446.8,762.9 L456.2,762.9 Z" fill="#000" stroke="none"/>
<g transform="rotate(-90 438.5 780.0)">
<text x="438.5" y="780.0" style="font-family:'Liberation Serif',serif;font-size:35px;font-style:italic;" textLength="68.0" lengthAdjust="spacing" >29.5</text>
<text x="516.5" y="778.5" style="font-family:'Liberation Serif',serif;font-size:24.5px;font-style:italic;" textLength="42.0" lengthAdjust="spacing" ><tspan style="font-weight:bold;font-style:normal">±</tspan>0.5</text>
</g>
<line x1="445.0" y1="783.9" x2="1451.5" y2="783.9" stroke="#000" stroke-width="2.0" stroke-dasharray="40 6 7 6" stroke-linecap="butt"/>
<line x1="497.0" y1="660.4" x2="834.0" y2="660.4" stroke="#000" stroke-width="2.0" stroke-dasharray="27 6" stroke-linecap="butt"/>
<line x1="656.8" y1="575.0" x2="656.8" y2="742.0" stroke="#000" stroke-width="2.0" stroke-dasharray="30 5 6 5" stroke-linecap="butt"/>
<rect x="757.3" y="610.2" width="678.4" height="346.2" rx="0" fill="none" stroke="#000" stroke-width="3.1"/>
<line x1="757.0" y1="610.2" x2="757.0" y2="956.4" stroke="#000" stroke-width="5" stroke-linecap="butt"/>
<line x1="1109.5" y1="610.2" x2="1109.5" y2="956.4" stroke="#000" stroke-width="4.2" stroke-linecap="butt"/>
<line x1="1115.2" y1="610.2" x2="1115.2" y2="956.4" stroke="#000" stroke-width="2.2" stroke-linecap="butt"/>
<line x1="1286.7" y1="610.2" x2="1286.7" y2="956.4" stroke="#000" stroke-width="6.8" stroke-linecap="butt"/>
<line x1="1435.7" y1="610.2" x2="1435.7" y2="956.4" stroke="#000" stroke-width="4.6" stroke-linecap="butt"/>
<line x1="1439.4" y1="618.5" x2="1439.4" y2="648.0" stroke="#000" stroke-width="4.4" stroke-linecap="round"/>
<line x1="1439.4" y1="728.0" x2="1439.4" y2="758.0" stroke="#000" stroke-width="4.4" stroke-linecap="round"/>
<line x1="1439.4" y1="919.5" x2="1439.4" y2="949.0" stroke="#000" stroke-width="4.4" stroke-linecap="round"/>
<path d="M1433,611.5 L1419,611.5 L1419,627.5 L1433,627.5 M1424,616 L1439,616 L1439,624 M1424,616 L1424,627" fill="none" stroke="#000" stroke-width="2.6" stroke-linejoin="round" />
<path d="M1433,796.5 L1419,796.5 L1419,859 L1433,859" fill="none" stroke="#000" stroke-width="2.6" stroke-linejoin="round" />
<rect x="1423.0" y="809.0" width="17.0" height="29.5" rx="0" fill="#fff" stroke="#000" stroke-width="2.6"/>
<ellipse cx="1088.0" cy="616.0" rx="19.0" ry="5.2" fill="none" stroke="#000" stroke-width="3.6"/>
<ellipse cx="1088.0" cy="616.0" rx="7.0" ry="2.2" fill="#000" stroke="#000" stroke-width="2.4"/>
<circle cx="818.4" cy="828.2" r="9.5" fill="#000" stroke="#000" stroke-width="5"/>
<circle cx="818.4" cy="826.5" r="2.2" fill="#fff" stroke="none" stroke-width="0"/>
<circle cx="1087.6" cy="828.2" r="17.5" fill="none" stroke="#000" stroke-width="3.6"/>
<circle cx="1087.6" cy="828.2" r="5.6" fill="none" stroke="#000" stroke-width="2.8"/>
<path d="M527.3,703 L527.3,937.5 L612,940.8 Q620.2,941.5 620.2,949" fill="none" stroke="#000" stroke-width="2.6" stroke-linejoin="round" />
<path d="M620.2,762 L620.2,968 Q620.2,975.4 627.5,975.4 L716.5,975.4 Q723.9,975.4 723.9,968 L723.9,742" fill="none" stroke="#000" stroke-width="2.6" stroke-linejoin="round" />
<path d="M620.2,895 Q620.2,902.2 627.5,902.2 L716.5,902.2 Q723.9,902.2 723.9,895" fill="none" stroke="#000" stroke-width="2.6" stroke-linejoin="round" />
<rect x="595.0" y="859.2" width="25.2" height="36.2" rx="0" fill="none" stroke="#000" stroke-width="2.6"/>
<line x1="617.5" y1="859.2" x2="617.5" y2="895.4" stroke="#000" stroke-width="1.6" stroke-linecap="butt"/>
<path d="M728,566 L755.9,566 L755.9,610" fill="none" stroke="#000" stroke-width="2.6" stroke-linejoin="round" />
<path d="M733,566 L723.9,566 L723.9,577" fill="none" stroke="#000" stroke-width="2.6" stroke-linejoin="round" />
<path d="M723.9,742 L723.9,979 L755.9,979 L755.9,956" fill="none" stroke="#000" stroke-width="2.6" stroke-linejoin="round" />
<line x1="723.9" y1="906.8" x2="755.9" y2="906.8" stroke="#000" stroke-width="2.6" stroke-linecap="butt"/>
<line x1="755.9" y1="722.0" x2="755.9" y2="956.0" stroke="#000" stroke-width="5" stroke-linecap="butt"/>
<path d="M505.1,632.1 L600.7,571.6 A105.0,105.0 0 0 1 713.0,571.7 L808.3,632.1 A33.5,33.5 0 0 1 808.3,688.7 L713.0,749.1 A105.0,105.0 0 0 1 600.7,749.2 L505.1,688.7 A33.5,33.5 0 0 1 505.1,632.1 Z" fill="#fff" stroke="#000" stroke-width="3.2" stroke-linejoin="round" />
<line x1="527.0" y1="600.0" x2="527.0" y2="703.0" stroke="#000" stroke-width="2.0" stroke-linecap="butt"/>
<line x1="522.5" y1="623.0" x2="522.5" y2="634.0" stroke="#000" stroke-width="2.0" stroke-linecap="butt"/>
<line x1="522.5" y1="640.0" x2="522.5" y2="681.0" stroke="#000" stroke-width="2.0" stroke-linecap="butt"/>
<line x1="522.5" y1="688.0" x2="522.5" y2="703.0" stroke="#000" stroke-width="2.0" stroke-linecap="butt"/>
<line x1="790.0" y1="623.0" x2="790.0" y2="634.0" stroke="#000" stroke-width="2.0" stroke-linecap="butt"/>
<line x1="790.0" y1="640.0" x2="790.0" y2="681.0" stroke="#000" stroke-width="2.0" stroke-linecap="butt"/>
<line x1="790.0" y1="688.0" x2="790.0" y2="703.0" stroke="#000" stroke-width="2.0" stroke-linecap="butt"/>
<line x1="497.0" y1="660.4" x2="834.0" y2="660.4" stroke="#000" stroke-width="2.0" stroke-dasharray="27 6" stroke-linecap="butt"/>
<line x1="656.8" y1="575.0" x2="656.8" y2="742.0" stroke="#000" stroke-width="2.0" stroke-dasharray="30 5 6 5" stroke-linecap="butt"/>
<path d="M713.0,571.7 A105.0,105.0 0 0 1 713.0,749.1" fill="none" stroke="#000" stroke-width="1.8" stroke-linejoin="round" />
<circle cx="523.0" cy="660.4" r="15.0" fill="none" stroke="#000" stroke-width="5"/>
<circle cx="790.4" cy="660.4" r="15.0" fill="none" stroke="#000" stroke-width="5"/>
<clipPath id="bore"><circle cx="656.8" cy="660.4" r="54"/></clipPath>
<g clip-path="url(#bore)">
<line x1="639.5" y1="600.0" x2="639.5" y2="720.0" stroke="#000" stroke-width="3" stroke-linecap="butt"/>
<line x1="699.5" y1="615.0" x2="699.5" y2="700.0" stroke="#000" stroke-width="3" stroke-linecap="butt"/>
<line x1="639.5" y1="626.0" x2="700.0" y2="628.5" stroke="#000" stroke-width="2.6" stroke-linecap="butt"/>
<line x1="639.5" y1="650.0" x2="700.0" y2="650.0" stroke="#000" stroke-width="2.6" stroke-linecap="butt"/>
<rect x="654.0" y="670.0" width="11.5" height="46.0" rx="0" fill="none" stroke="#000" stroke-width="2.6"/>
<line x1="639.5" y1="678.0" x2="654.0" y2="678.0" stroke="#000" stroke-width="2.6" stroke-linecap="butt"/>
<line x1="639.5" y1="684.0" x2="654.0" y2="684.0" stroke="#000" stroke-width="2.2" stroke-linecap="butt"/>
<line x1="639.5" y1="699.0" x2="654.0" y2="699.0" stroke="#000" stroke-width="2.6" stroke-linecap="butt"/>
<line x1="651.5" y1="699.0" x2="651.5" y2="716.0" stroke="#000" stroke-width="4" stroke-linecap="butt"/>
</g>
<circle cx="656.8" cy="660.4" r="54.9" fill="none" stroke="#000" stroke-width="3.4"/>
<path d="M586,745 L587.5,757" fill="none" stroke="#000" stroke-width="2.6" stroke-linejoin="round" />
<path d="M641,770.5 L645,767 M666,767 L671,771" fill="none" stroke="#000" stroke-width="2.2" stroke-linejoin="round" />
<text x="226.0" y="470.0" style="font-family:'Liberation Serif',serif;font-size:35px;font-style:italic;" textLength="171.0" lengthAdjust="spacing" >HC M8X15</text>
<path d="M407,456.5 L427,456.5 L511,645" fill="none" stroke="#000" stroke-width="2.0" stroke-linejoin="round" />
<path d="M511.0,645.0 L498.2,627.7 L506.9,623.9 Z" fill="#000" stroke="none"/>
<text x="348.0" y="554.0" style="font-family:'Liberation Serif',serif;font-size:35px;font-style:italic;" textLength="40.0" lengthAdjust="spacing" >R8</text>
<path d="M343,566.5 L424,566.5 L497,636" fill="none" stroke="#000" stroke-width="2.0" stroke-linejoin="round" />
<path d="M497.0,636.0 L478.6,624.8 L485.2,618.0 Z" fill="#000" stroke="none"/>
<g><ellipse cx="551.4" cy="454.0" rx="10.6" ry="12.2" fill="none" stroke="#000" stroke-width="2.1" transform="rotate(18 551.4 454.0)"/><line x1="536.2" y1="472.0" x2="567.2" y2="437.0" stroke="#000" stroke-width="2.1"/></g>
<text x="569.0" y="466.0" style="font-family:'Liberation Serif',serif;font-size:35px;font-style:italic;" textLength="36.0" lengthAdjust="spacing" >50</text>
<path d="M527,485 L637.5,485 L646,556 L667.5,764" fill="none" stroke="#000" stroke-width="2.0" stroke-linejoin="round" />
<path d="M646.2,556.5 L653.2,576.9 L643.7,577.9 Z" fill="#000" stroke="none"/>
<path d="M667.3,763.5 L660.5,743.1 L670.0,742.1 Z" fill="#000" stroke="none"/>
<g><ellipse cx="309.4" cy="846.0" rx="10.6" ry="12.2" fill="none" stroke="#000" stroke-width="2.1" transform="rotate(18 309.4 846.0)"/><line x1="294.2" y1="864.0" x2="325.2" y2="829.0" stroke="#000" stroke-width="2.1"/></g>
<text x="327.0" y="858.0" style="font-family:'Liberation Serif',serif;font-size:35px;font-style:italic;" textLength="35.0" lengthAdjust="spacing" >26</text>
<text x="371.0" y="856.5" style="font-family:'Liberation Serif',serif;font-size:24.5px;font-style:italic;" textLength="46.0" lengthAdjust="spacing" ><tspan style="font-weight:bold;font-style:normal">±</tspan>0.6</text>
<path d="M285,877.5 L452.5,877.5 L695.7,621.5" fill="none" stroke="#000" stroke-width="2.0" stroke-linejoin="round" />
<path d="M695.7,621.5 L684.7,640.0 L677.8,633.5 Z" fill="#000" stroke="none"/>
<path d="M617.9,703.5 L628.9,685.0 L635.8,691.5 Z" fill="#000" stroke="none"/>
<line x1="1438.0" y1="610.0" x2="1556.0" y2="610.0" stroke="#000" stroke-width="2.0" stroke-linecap="butt"/>
<line x1="1438.0" y1="956.4" x2="1556.0" y2="956.4" stroke="#000" stroke-width="2.0" stroke-linecap="butt"/>
<line x1="1546.8" y1="610.0" x2="1546.8" y2="956.4" stroke="#000" stroke-width="2.0" stroke-linecap="butt"/>
<path d="M1546.8,610.0 L1551.5,631.0 L1542.0,631.0 Z" fill="#000" stroke="none"/>
<path d="M1546.8,956.4 L1542.0,935.4 L1551.5,935.4 Z" fill="#000" stroke="none"/>
<g transform="rotate(-90 1527.5 835.5)"><ellipse cx="1541.9" cy="823.5" rx="10.6" ry="12.2" fill="none" stroke="#000" stroke-width="2.1" transform="rotate(18 1541.9 823.5)"/><line x1="1526.7" y1="841.5" x2="1557.7" y2="806.5" stroke="#000" stroke-width="2.1"/></g>
<g transform="rotate(-90 1527.5 835.5)">
<text x="1559.0" y="835.5" style="font-family:'Liberation Serif',serif;font-size:35px;font-style:italic;" textLength="36.0" lengthAdjust="spacing" >83</text>
<text x="1603.0" y="834.0" style="font-family:'Liberation Serif',serif;font-size:24.5px;font-style:italic;" textLength="27.0" lengthAdjust="spacing" ><tspan style="font-weight:bold;font-style:normal">±</tspan>1</text>
</g>
<line x1="527.0" y1="1349.5" x2="527.0" y2="1600.0" stroke="#000" stroke-width="2.0" stroke-linecap="butt"/>
<line x1="968.8" y1="1349.5" x2="968.8" y2="1588.0" stroke="#000" stroke-width="2.0" stroke-linecap="butt"/>
<line x1="527.0" y1="1359.5" x2="968.8" y2="1359.5" stroke="#000" stroke-width="2.0" stroke-linecap="butt"/>
<path d="M527.0,1359.5 L548.0,1354.8 L548.0,1364.2 Z" fill="#000" stroke="none"/>
<path d="M968.8,1359.5 L947.8,1364.2 L947.8,1354.8 Z" fill="#000" stroke="none"/>
<text x="702.5" y="1345.5" style="font-family:'Liberation Serif',serif;font-size:35px;font-style:italic;" textLength="52.5" lengthAdjust="spacing" >106</text>
<text x="765.0" y="1344.0" style="font-family:'Liberation Serif',serif;font-size:24.5px;font-style:italic;" textLength="27.5" lengthAdjust="spacing" ><tspan style="font-weight:bold;font-style:normal">±</tspan>1</text>
<text x="1107.5" y="1322.0" style="font-family:'Liberation Serif',serif;font-size:35px;font-style:italic;" textLength="340.0" lengthAdjust="spacing" >KONNEKTÖR GİRİŞİ</text>
<text x="1107.5" y="1361.5" style="font-family:'Liberation Serif',serif;font-size:35px;font-style:italic;" textLength="338.0" lengthAdjust="spacing" >VG95234A-10SL-3PN</text>
<path d="M1107.5,1323.5 L1085,1323.5 L1008.3,1455" fill="none" stroke="#000" stroke-width="2.0" stroke-linejoin="round" />
<path d="M1008.3,1455.0 L1014.7,1434.4 L1022.9,1439.2 Z" fill="#000" stroke="none"/>
<rect x="757.9" y="1589.6" width="677.8" height="345.7" rx="0" fill="none" stroke="#000" stroke-width="3.1"/>
<line x1="757.7" y1="1589.6" x2="757.7" y2="1935.3" stroke="#000" stroke-width="5" stroke-linecap="butt"/>
<line x1="1109.7" y1="1589.6" x2="1109.7" y2="1935.3" stroke="#000" stroke-width="4.2" stroke-linecap="butt"/>
<line x1="1115.0" y1="1589.6" x2="1115.0" y2="1935.3" stroke="#000" stroke-width="2.2" stroke-linecap="butt"/>
<line x1="1286.7" y1="1589.6" x2="1286.7" y2="1935.3" stroke="#000" stroke-width="6.8" stroke-linecap="butt"/>
<line x1="1435.7" y1="1589.6" x2="1435.7" y2="1935.3" stroke="#000" stroke-width="4.6" stroke-linecap="butt"/>
<line x1="1439.4" y1="1598.0" x2="1439.4" y2="1627.0" stroke="#000" stroke-width="4.4" stroke-linecap="round"/>
<line x1="1439.4" y1="1708.0" x2="1439.4" y2="1737.0" stroke="#000" stroke-width="4.4" stroke-linecap="round"/>
<line x1="1439.4" y1="1899.0" x2="1439.4" y2="1928.0" stroke="#000" stroke-width="4.4" stroke-linecap="round"/>
<path d="M1433,1590.5 L1419,1590.5 M1421,1598 L1439,1598 L1439,1606 M1421,1592 L1421,1606 L1433,1606" fill="none" stroke="#000" stroke-width="2.6" stroke-linejoin="round" />
<path d="M1433,1776 L1419,1776 L1419,1838.3 L1433,1838.3" fill="none" stroke="#000" stroke-width="2.6" stroke-linejoin="round" />
<rect x="1423.0" y="1788.5" width="17.0" height="29.5" rx="0" fill="#fff" stroke="#000" stroke-width="2.6"/>
<rect x="1294.2" y="1586.8" width="126.1" height="97.7" rx="0" fill="#fff" stroke="#000" stroke-width="3.1"/>
<ellipse cx="1309.1" cy="1671.0" rx="6.0" ry="4.8" fill="none" stroke="#000" stroke-width="2.6"/>
<ellipse cx="1404.8" cy="1671.0" rx="6.0" ry="4.8" fill="none" stroke="#000" stroke-width="2.6"/>
<rect x="1331" y="1587" width="10" height="73" fill="#000"/>
<rect x="1344.5" y="1594" width="9.5" height="66" fill="#000"/>
<rect x="1358" y="1592" width="9.5" height="78" fill="#000"/>
<rect x="1383.5" y="1587" width="9.5" height="56" fill="#000"/>
<rect x="1330" y="1627" width="16" height="6" fill="#fff"/>
<rect x="1318" y="1593.5" width="9" height="3.5" fill="#000"/>
<ellipse cx="1088.5" cy="1595.5" rx="19.0" ry="5.2" fill="none" stroke="#000" stroke-width="3.6"/>
<ellipse cx="1088.5" cy="1595.5" rx="7.0" ry="2.2" fill="#000" stroke="#000" stroke-width="2.4"/>
<circle cx="1088.0" cy="1806.5" r="17.5" fill="none" stroke="#000" stroke-width="3.6"/>
<circle cx="1088.0" cy="1806.5" r="5.6" fill="none" stroke="#000" stroke-width="2.8"/>
<rect x="724.4" y="1565.9" width="31.9" height="392.4" rx="0" fill="none" stroke="#000" stroke-width="2.6"/>
<path d="M723.2,1982 L723.2,1576 Q723.2,1569.9 717,1569.9 L627,1569.9 Q620.6,1569.9 620.6,1576 L620.6,1788 Q620.6,1795.8 613,1795.8 L597,1795.8 Q588.3,1797 588.3,1805 L588.3,1980 Q588.3,1985 583,1987.1" fill="none" stroke="#000" stroke-width="2.6" stroke-linejoin="round" />
<path d="M723.2,1958.3 L723.2,1978 Q723.2,1985 730,1987.1" fill="none" stroke="#000" stroke-width="2.6" stroke-linejoin="round" />
<path d="M620.6,1604 L594.5,1605.4 L527.2,1608.5 L527.2,1884.6 L580,1887.3 Q588.3,1888 588.3,1894" fill="none" stroke="#000" stroke-width="2.6" stroke-linejoin="round" />
<rect x="595.0" y="1581.7" width="23.3" height="23.1" rx="0" fill="none" stroke="#000" stroke-width="2.6"/>
<line x1="616.0" y1="1581.7" x2="616.0" y2="1604.8" stroke="#000" stroke-width="1.6" stroke-linecap="butt"/>
<rect x="595.0" y="1744.2" width="24.0" height="36.6" rx="0" fill="none" stroke="#000" stroke-width="2.6"/>
<line x1="616.3" y1="1744.2" x2="616.3" y2="1780.8" stroke="#000" stroke-width="1.6" stroke-linecap="butt"/>
<path d="M492.5,1987.1 L820.5,1987.1 Q823.7,1987.1 823.7,1990.5 L823.7,2040.3 L488.9,2040.3 L488.9,1990.5 Q488.9,1987.1 492.5,1987.1 Z" fill="none" stroke="#000" stroke-width="3.1" stroke-linejoin="round" />
<path d="M885.1,1592.9 L885.1,1566.1 Q885.1,1561.7 889.8,1561.7 L912.8,1561.7" fill="none" stroke="#000" stroke-width="2.6" stroke-linejoin="round" />
<path d="M1053.1,1592.9 L1053.1,1566.1 Q1053.1,1561.7 1048.4,1561.7 L1025.8,1561.7" fill="none" stroke="#000" stroke-width="2.6" stroke-linejoin="round" />
<path d="M882.4,1587.1 L882.4,1616.1 Q882.4,1622.7 889.8,1622.7 L1047.8,1622.7 Q1055.2,1622.7 1055.2,1616.1 L1055.2,1587.1" fill="#fff" stroke="#000" stroke-width="3.1" stroke-linejoin="round" />
<line x1="884.8" y1="1592.9" x2="1053.3" y2="1592.9" stroke="#000" stroke-width="2.6" stroke-linecap="butt"/>
<path d="M912.2,1516.1 L912.2,1588.1 Q912.2,1592.9 917.8,1592.9 L1020.3,1592.9 Q1026.0,1592.9 1026.0,1588.1 L1026.0,1516.1" fill="#fff" stroke="#000" stroke-width="3.1" stroke-linejoin="round" />
<path d="M912.8,1542.1 L912.8,1504.1 L916.8,1499.6 L928.8,1499.6 M1008.8,1499.6 L1021.3,1499.6 L1025.4,1504.1 L1025.4,1542.1" fill="none" stroke="#000" stroke-width="2.6" stroke-linejoin="round" />
<line x1="912.8" y1="1525.8" x2="1025.4" y2="1525.8" stroke="#000" stroke-width="2.6" stroke-linecap="butt"/>
<line x1="912.8" y1="1542.9" x2="1025.4" y2="1542.9" stroke="#000" stroke-width="5" stroke-linecap="butt"/>
<path d="M915.8,1538.1 Q915.8,1541.1 920.8,1541.1" fill="none" stroke="#000" stroke-width="2" stroke-linejoin="round" />
<path d="M914.3,1491.1 Q923.3,1484.1 932.3,1491.1 L932.3,1501.1 L914.3,1501.1 Z" fill="#fff" stroke="#000" stroke-width="2.6" stroke-linejoin="round" />
<line x1="914.3" y1="1495.1" x2="932.3" y2="1495.1" stroke="#000" stroke-width="2" stroke-linecap="butt"/>
<path d="M1005.3,1491.1 Q1014.3,1484.1 1023.3,1491.1 L1023.3,1501.1 L1005.3,1501.1 Z" fill="#fff" stroke="#000" stroke-width="2.6" stroke-linejoin="round" />
<line x1="1005.3" y1="1495.1" x2="1023.3" y2="1495.1" stroke="#000" stroke-width="2" stroke-linecap="butt"/>
<path d="M929.5,1454.1 L929.5,1516.1 Q968.8,1527.1 1007.8,1516.1 L1007.8,1454.1 A39.2,9.4 0 0 0 929.5,1454.1 Z" fill="#fff" stroke="#000" stroke-width="2.6" stroke-linejoin="round" />
<path d="M943.8,1456.6 Q968.8,1470.1 994.3,1456.6" fill="none" stroke="#000" stroke-width="2.2" stroke-linejoin="round" />
<circle cx="968.3" cy="1458.1" r="3.2" fill="none" stroke="#000" stroke-width="2.2"/>
<path d="M918.8,1513.1 Q918.8,1506.6 931.3,1506.6 Q943.8,1506.6 943.8,1513.1 L943.8,1521.1 Q931.3,1529.1 918.8,1521.1 Z" fill="#fff" stroke="#000" stroke-width="3.2" stroke-linejoin="round" />
<path d="M921.3,1512.1 Q931.3,1517.1 941.3,1512.1" fill="none" stroke="#000" stroke-width="2" stroke-linejoin="round" />
<path d="M919.3,1520.1 Q931.3,1527.1 943.3,1520.1" fill="none" stroke="#000" stroke-width="4" stroke-linejoin="round" />
<path d="M993.8,1513.1 Q993.8,1506.6 1006.3,1506.6 Q1018.8,1506.6 1018.8,1513.1 L1018.8,1521.1 Q1006.3,1529.1 993.8,1521.1 Z" fill="#fff" stroke="#000" stroke-width="3.2" stroke-linejoin="round" />
<path d="M996.3,1512.1 Q1006.3,1517.1 1016.3,1512.1" fill="none" stroke="#000" stroke-width="2" stroke-linejoin="round" />
<path d="M994.3,1520.1 Q1006.3,1527.1 1018.3,1520.1" fill="none" stroke="#000" stroke-width="4" stroke-linejoin="round" />
<line x1="968.8" y1="1349.5" x2="968.8" y2="1588.0" stroke="#000" stroke-width="2.0" stroke-linecap="butt"/>
<line x1="1991.7" y1="1761.7" x2="2450.0" y2="1761.7" stroke="#000" stroke-width="2.0" stroke-dasharray="40 6 7 6" stroke-linecap="butt"/>
<line x1="2450.0" y1="1761.7" x2="2622.0" y2="1761.7" stroke="#000" stroke-width="2.0" stroke-linecap="butt"/>
<line x1="2226.8" y1="1389.0" x2="2226.8" y2="2011.7" stroke="#000" stroke-width="2.0" stroke-dasharray="40 6 7 6" stroke-linecap="butt"/>
<clipPath id="hclip"><path d="M1900,1300 L2700,1300 L2700,1798 L2246.5,1798 L2246.5,2100 L1900,2100 Z"/></clipPath>
<g clip-path="url(#hclip)">
<path d="M2419.6,1726.6 A10,10 0 0 0 2425.8,1734.1 A29.7,29.7 0 0 1 2425.8,1789.3 A10,10 0 0 0 2419.6,1796.8 A196,196 0 0 1 2160.8,1946.2 A10,10 0 0 0 2151.2,1947.8 A29.7,29.7 0 0 1 2103.4,1920.2 A10,10 0 0 0 2100.0,1911.1 A196,196 0 0 1 2100.0,1612.3 A10,10 0 0 0 2103.4,1603.2 A29.7,29.7 0 0 1 2151.2,1575.6 A10,10 0 0 0 2160.8,1577.2 A196,196 0 0 1 2419.6,1726.6 Z" fill="none" stroke="#000" stroke-width="3.4" stroke-linejoin="round" />
<path d="M2415.5,1727.4 A14.2,14.2 0 0 0 2424.2,1738.0 A25.5,25.5 0 0 1 2424.2,1785.4 A14.2,14.2 0 0 0 2415.5,1796.0 A191.8,191.8 0 0 1 2162.2,1942.3 A14.2,14.2 0 0 0 2148.6,1944.5 A25.5,25.5 0 0 1 2107.6,1920.8 A14.2,14.2 0 0 0 2102.7,1907.9 A191.8,191.8 0 0 1 2102.7,1615.5 A14.2,14.2 0 0 0 2107.6,1602.6 A25.5,25.5 0 0 1 2148.6,1578.9 A14.2,14.2 0 0 0 2162.2,1581.1 A191.8,191.8 0 0 1 2415.5,1727.4 Z" fill="none" stroke="#000" stroke-width="1.6" stroke-linejoin="round" />
</g>
<line x1="1991.7" y1="1761.7" x2="2450.0" y2="1761.7" stroke="#000" stroke-width="2.0" stroke-dasharray="40 6 7 6" stroke-linecap="butt"/>
<line x1="2226.8" y1="1389.0" x2="2226.8" y2="2011.7" stroke="#000" stroke-width="2.0" stroke-dasharray="40 6 7 6" stroke-linecap="butt"/>
<circle cx="2414.8" cy="1761.7" r="19.0" fill="#fff" stroke="#000" stroke-width="3.4"/>
<circle cx="2414.8" cy="1761.7" r="13.6" fill="none" stroke="#000" stroke-width="2.2"/>
<path d="M2423.4,1761.7 L2419.1,1769.1 L2410.5,1769.1 L2406.2,1761.7 L2410.5,1754.3 L2419.1,1754.3 Z" fill="none" stroke="#000" stroke-width="2" stroke-linejoin="round" />
<circle cx="2132.8" cy="1924.5" r="19.0" fill="#fff" stroke="#000" stroke-width="3.4"/>
<circle cx="2132.8" cy="1924.5" r="13.6" fill="none" stroke="#000" stroke-width="2.2"/>
<path d="M2141.4,1924.5 L2137.1,1932.0 L2128.5,1932.0 L2124.2,1924.5 L2128.5,1917.1 L2137.1,1917.1 Z" fill="none" stroke="#000" stroke-width="2" stroke-linejoin="round" />
<circle cx="2132.8" cy="1598.9" r="19.0" fill="#fff" stroke="#000" stroke-width="3.4"/>
<circle cx="2132.8" cy="1598.9" r="13.6" fill="none" stroke="#000" stroke-width="2.2"/>
<path d="M2141.4,1598.9 L2137.1,1606.3 L2128.5,1606.3 L2124.2,1598.9 L2128.5,1591.4 L2137.1,1591.4 Z" fill="none" stroke="#000" stroke-width="2" stroke-linejoin="round" />
<line x1="2394.0" y1="1761.7" x2="2450.0" y2="1761.7" stroke="#000" stroke-width="2.0" stroke-dasharray="14 4 4 4" stroke-linecap="butt"/>
<path d="M2354.5,1795.4 L2404,1795.4 Q2418.5,1796 2418.5,1812 L2418.5,1978 Q2418.5,1985 2424,1986.9" fill="none" stroke="#000" stroke-width="2.6" stroke-linejoin="round" />
<path d="M2418.5,1812 Q2417,1797 2428,1790" fill="none" stroke="#000" stroke-width="2.6" stroke-linejoin="round" />
<path d="M2243,1955 L2272,1949.5 Q2280.3,1949 2280.3,1957" fill="none" stroke="#000" stroke-width="2.6" stroke-linejoin="round" />
<line x1="2280.3" y1="1921.6" x2="2280.3" y2="1979.0" stroke="#000" stroke-width="2.6" stroke-linecap="butt"/>
<path d="M2280.3,1979 Q2280,1985 2275,1986.9" fill="none" stroke="#000" stroke-width="2.6" stroke-linejoin="round" />
<line x1="2248.2" y1="1957.5" x2="2248.2" y2="1986.9" stroke="#000" stroke-width="2.6" stroke-linecap="butt"/>
<path d="M2247.5,1986.9 L2450.5,1986.9 Q2453.8,1986.9 2453.8,1990 L2453.8,2040.3 L2244.2,2040.3 L2244.2,1990 Q2244.2,1986.9 2247.5,1986.9 Z" fill="none" stroke="#000" stroke-width="3.1" stroke-linejoin="round" />
<path d="M2217.1,1651.6 A9,9 0 0 0 2225.3,1642.2 A34,34 0 1 1 2287.8,1659.0 A9,9 0 0 0 2290.2,1671.2 A110.5,110.5 0 0 1 2327.0,1808.3 A9,9 0 0 0 2331.0,1820.1 A34,34 0 1 1 2285.2,1865.9 A9,9 0 0 0 2273.4,1861.9 A110.5,110.5 0 0 1 2136.3,1825.1 A9,9 0 0 0 2124.1,1822.7 A34,34 0 1 1 2107.3,1760.2 A9,9 0 0 0 2116.7,1752.0 A110.5,110.5 0 0 1 2217.1,1651.6 Z" fill="none" stroke="#000" stroke-width="2.8" stroke-linejoin="round" />
<circle cx="2226.8" cy="1761.7" r="125.6" fill="none" stroke="#000" stroke-width="1.7" stroke-dasharray="36 5 6 5"/>
<circle cx="2259.3" cy="1640.6" r="15.2" fill="#fff" stroke="#000" stroke-width="5.6"/>
<line x1="2255.6" y1="1654.1" x2="2262.9" y2="1627.0" stroke="#000" stroke-width="1.5" stroke-linecap="butt"/>
<line x1="2245.7" y1="1636.9" x2="2272.8" y2="1644.2" stroke="#000" stroke-width="1.5" stroke-linecap="butt"/>
<line x1="2265.5" y1="1617.4" x2="2269.1" y2="1603.9" stroke="#000" stroke-width="1.6" stroke-linecap="butt"/>
<line x1="2252.5" y1="1665.7" x2="2248.9" y2="1679.2" stroke="#000" stroke-width="1.6" stroke-linecap="butt"/>
<circle cx="2315.5" cy="1850.4" r="15.2" fill="#fff" stroke="#000" stroke-width="5.6"/>
<line x1="2305.6" y1="1840.5" x2="2325.4" y2="1860.3" stroke="#000" stroke-width="1.5" stroke-linecap="butt"/>
<line x1="2325.4" y1="1840.5" x2="2305.6" y2="1860.3" stroke="#000" stroke-width="1.5" stroke-linecap="butt"/>
<line x1="2332.4" y1="1867.3" x2="2342.3" y2="1877.2" stroke="#000" stroke-width="1.6" stroke-linecap="butt"/>
<line x1="2297.1" y1="1832.0" x2="2287.2" y2="1822.1" stroke="#000" stroke-width="1.6" stroke-linecap="butt"/>
<circle cx="2105.7" cy="1794.2" r="15.2" fill="#fff" stroke="#000" stroke-width="5.6"/>
<line x1="2119.2" y1="1790.5" x2="2092.1" y2="1797.8" stroke="#000" stroke-width="1.5" stroke-linecap="butt"/>
<line x1="2109.3" y1="1807.7" x2="2102.0" y2="1780.6" stroke="#000" stroke-width="1.5" stroke-linecap="butt"/>
<line x1="2082.5" y1="1800.4" x2="2069.0" y2="1804.0" stroke="#000" stroke-width="1.6" stroke-linecap="butt"/>
<line x1="2130.8" y1="1787.4" x2="2144.3" y2="1783.8" stroke="#000" stroke-width="1.6" stroke-linecap="butt"/>
<circle cx="2226.8" cy="1761.7" r="60.6" fill="none" stroke="#000" stroke-width="3"/>
<path d="M2258.7,1770.2 L2235.3,1793.6 L2203.5,1785.0 L2194.9,1753.2 L2218.3,1729.8 L2250.1,1738.4 Z" fill="none" stroke="#000" stroke-width="2.2" stroke-linejoin="round" />
<path d="M2254.8,1769.2 L2234.3,1789.7 L2206.3,1782.2 L2198.8,1754.2 L2219.3,1733.7 L2247.3,1741.2 Z" fill="none" stroke="#000" stroke-width="2.2" stroke-linejoin="round" />
<circle cx="2226.8" cy="1761.7" r="17.2" fill="none" stroke="#000" stroke-width="3.2"/>
<path d="M2199.7,1736.5 A37,37 0 0 1 2237.6,1726.3" fill="none" stroke="#000" stroke-width="2.4" stroke-linejoin="round" />
<path d="M2237.6,1726.3 L2234.8,1731.8" fill="none" stroke="#000" stroke-width="2.2" stroke-linejoin="round" />
<path d="M2262.2,1750.9 A37,37 0 0 1 2252.0,1788.8" fill="none" stroke="#000" stroke-width="2.4" stroke-linejoin="round" />
<path d="M2252.0,1788.8 L2248.7,1783.6" fill="none" stroke="#000" stroke-width="2.2" stroke-linejoin="round" />
<path d="M2218.5,1797.8 A37,37 0 0 1 2190.7,1770.0" fill="none" stroke="#000" stroke-width="2.4" stroke-linejoin="round" />
<path d="M2190.7,1770.0 L2196.9,1769.7" fill="none" stroke="#000" stroke-width="2.2" stroke-linejoin="round" />
<g transform="translate(2226.8,1761.7) rotate(15)">
<line x1="0.0" y1="-372.0" x2="0.0" y2="-246.0" stroke="#000" stroke-width="2.0" stroke-dasharray="34 5 6 5" stroke-linecap="butt"/>
<line x1="-270.0" y1="-316.5" x2="-45.0" y2="-316.5" stroke="#000" stroke-width="2.0" stroke-linecap="butt"/>
<line x1="-270.0" y1="0.0" x2="-33.0" y2="0.0" stroke="#000" stroke-width="2.0" stroke-linecap="butt"/>
<line x1="-259.0" y1="-316.5" x2="-259.0" y2="0.0" stroke="#000" stroke-width="2.0" stroke-linecap="butt"/>
<path d="M-259.0,-316.5 L-254.2,-295.5 L-263.8,-295.5 Z" fill="#000" stroke="none"/>
<path d="M-259.0,0.0 L-263.8,-21.0 L-254.2,-21.0 Z" fill="#000" stroke="none"/>
<line x1="-57.0" y1="-241.5" x2="-57.0" y2="-191.0" stroke="#000" stroke-width="2.6" stroke-linecap="butt"/>
<line x1="55.5" y1="-241.5" x2="55.5" y2="-188.0" stroke="#000" stroke-width="2.6" stroke-linecap="butt"/>
<path d="M-66,-190.5 L-57,-193.5 L-54,-190" fill="none" stroke="#000" stroke-width="2.2" stroke-linejoin="round" />
<path d="M52,-189 L56,-192 L64,-186" fill="none" stroke="#000" stroke-width="2.2" stroke-linejoin="round" />
<path d="M-56.5,-241.5 L-56.5,-259 L56,-259 L56,-241.5" fill="none" stroke="#000" stroke-width="2.6" stroke-linejoin="round" />
<line x1="-58.0" y1="-241.5" x2="57.0" y2="-241.5" stroke="#000" stroke-width="5.6" stroke-linecap="butt"/>
<path d="M-51.5,-259 L-51.5,-263 Q-49.5,-274 -37.5,-274 Q-25.5,-274 -23.5,-263 L-23.5,-259 Z" fill="#fff" stroke="#000" stroke-width="3.2" stroke-linejoin="round" />
<line x1="-49.5" y1="-262.5" x2="-25.5" y2="-262.5" stroke="#000" stroke-width="4.5" stroke-linecap="butt"/>
<path d="M23.5,-259 L23.5,-263 Q25.5,-274 37.5,-274 Q49.5,-274 51.5,-263 L51.5,-259 Z" fill="#fff" stroke="#000" stroke-width="3.2" stroke-linejoin="round" />
<line x1="25.5" y1="-262.5" x2="49.5" y2="-262.5" stroke="#000" stroke-width="4.5" stroke-linecap="butt"/>
<path d="M-38.7,-274 L-38.7,-313.5 Q-38.7,-316.5 -35.7,-316.5 L35.5,-316.5 Q38.5,-316.5 38.5,-313.5 L38.5,-274" fill="none" stroke="#000" stroke-width="2.6" stroke-linejoin="round" />
<g transform="rotate(-90 -272 -122)">
<text x="-272.0" y="-122.0" style="font-family:'Liberation Serif',serif;font-size:35px;font-style:italic;" textLength="36.0" lengthAdjust="spacing" >76</text>
<text x="-228.0" y="-123.5" style="font-family:'Liberation Serif',serif;font-size:24.5px;font-style:italic;" textLength="27.0" lengthAdjust="spacing" ><tspan style="font-weight:bold;font-style:normal">±</tspan>1</text>
</g>
</g>
<path d="M2226.8,1400.2 A361.5,361.5 0 0 1 2320.4,1412.5" fill="none" stroke="#000" stroke-width="2.0" stroke-linejoin="round" />
<path d="M2226.8,1400.2 L2247.9,1396.0 L2247.7,1405.5 Z" fill="#000" stroke="none"/>
<path d="M2320.4,1412.5 L2298.8,1412.2 L2301.1,1403.0 Z" fill="#000" stroke="none"/>
<text x="2252.5" y="1386.4" style="font-family:'Liberation Serif',serif;font-size:36px;font-style:italic;" textLength="51.0" lengthAdjust="spacing" >15°</text>
<g><ellipse cx="2476.9" cy="1526.5" rx="10.6" ry="12.2" fill="none" stroke="#000" stroke-width="2.1" transform="rotate(18 2476.9 1526.5)"/><line x1="2461.7" y1="1544.5" x2="2492.7" y2="1509.5" stroke="#000" stroke-width="2.1"/></g>
<text x="2494.5" y="1538.5" style="font-family:'Liberation Serif',serif;font-size:35px;font-style:italic;" textLength="36.0" lengthAdjust="spacing" >29</text>
<text x="2540.0" y="1537.0" style="font-family:'Liberation Serif',serif;font-size:24.5px;font-style:italic;" textLength="46.0" lengthAdjust="spacing" ><tspan style="font-weight:bold;font-style:normal">±</tspan>0.6</text>
<path d="M2595.6,1558.7 L2429,1558.7 L2183.3,1803.6" fill="none" stroke="#000" stroke-width="2.0" stroke-linejoin="round" />
<path d="M2251.4,1734.6 L2262.9,1716.4 L2269.6,1723.1 Z" fill="#000" stroke="none"/>
<path d="M2183.3,1803.6 L2194.9,1785.4 L2201.5,1792.2 Z" fill="#000" stroke="none"/>
<g><ellipse cx="1794.9" cy="1837.0" rx="10.6" ry="12.2" fill="none" stroke="#000" stroke-width="2.1" transform="rotate(18 1794.9 1837.0)"/><line x1="1779.7" y1="1855.0" x2="1810.7" y2="1820.0" stroke="#000" stroke-width="2.1"/></g>
<text x="1812.5" y="1849.0" style="font-family:'Liberation Serif',serif;font-size:35px;font-style:italic;" textLength="36.0" lengthAdjust="spacing" >60</text>
<text x="1858.5" y="1847.5" style="font-family:'Liberation Serif',serif;font-size:24.5px;font-style:italic;" textLength="46.0" lengthAdjust="spacing" ><tspan style="font-weight:bold;font-style:normal">±</tspan>0.2</text>
<path d="M1772,1869.5 L1939.5,1869.5 L2343,1717.7" fill="none" stroke="#000" stroke-width="2.0" stroke-linejoin="round" />
<path d="M2343.0,1717.7 L2325.0,1729.5 L2321.7,1720.6 Z" fill="#000" stroke="none"/>
<path d="M2120.5,1801.6 L2138.5,1789.8 L2141.8,1798.7 Z" fill="#000" stroke="none"/>
<text x="1734.0" y="1722.0" style="font-family:'Liberation Serif',serif;font-size:35px;font-style:italic;" textLength="171.5" lengthAdjust="spacing" >HC M8X10</text>
<path d="M1914.5,1710.5 L1937,1710.5 L2095.3,1778.8" fill="none" stroke="#000" stroke-width="2.0" stroke-linejoin="round" />
<path d="M2095.3,1778.8 L2074.1,1774.9 L2077.9,1766.1 Z" fill="#000" stroke="none"/>
<line x1="2453.8" y1="2040.2" x2="2622.0" y2="2040.2" stroke="#000" stroke-width="2.0" stroke-linecap="butt"/>
<line x1="2613.5" y1="1761.7" x2="2613.5" y2="2040.2" stroke="#000" stroke-width="2.0" stroke-linecap="butt"/>
<path d="M2613.5,1761.7 L2618.2,1782.7 L2608.8,1782.7 Z" fill="#000" stroke="none"/>
<path d="M2613.5,2040.2 L2608.8,2019.2 L2618.2,2019.2 Z" fill="#000" stroke="none"/>
<g transform="rotate(-90 2599.6 1959.5)">
<text x="2599.6" y="1959.5" style="font-family:'Liberation Serif',serif;font-size:35px;font-style:italic;" textLength="64.0" lengthAdjust="spacing" >66.5</text>
<text x="2671.6" y="1958.0" style="font-family:'Liberation Serif',serif;font-size:24.5px;font-style:italic;" textLength="47.0" lengthAdjust="spacing" ><tspan style="font-weight:bold;font-style:normal">±</tspan>0.3</text>
</g>
</g>
</svg>
</body></html>
